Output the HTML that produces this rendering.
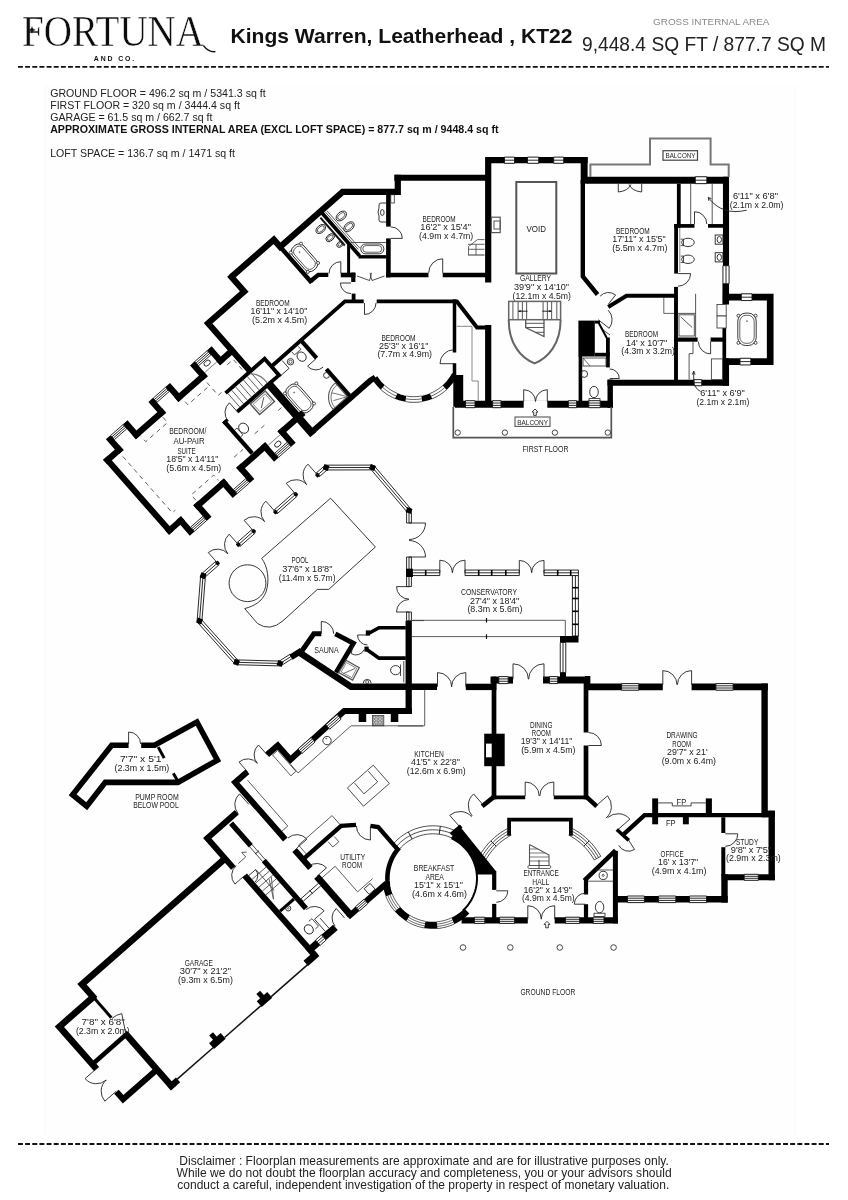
<!DOCTYPE html>
<html lang="en"><head><meta charset="utf-8"><title>Kings Warren, Leatherhead, KT22 - Floorplan</title>
<style>
html,body{margin:0;padding:0;background:#fff}
svg{display:block}
text{font-family:"Liberation Sans",sans-serif;fill:#111}
.c{font-family:"Liberation Sans",sans-serif;fill:#222}
.logo{font-family:"Liberation Serif",serif;fill:#0d0d0d}
.b{font-weight:bold}
.g{fill:#8a8a8a}
</style></head><body>
<svg width="848" height="1200" viewBox="0 0 848 1200" style="filter:grayscale(1)">
<rect x="0" y="0" width="848" height="1200" fill="#fff"/>
<rect x="45.3" y="85.5" width="749.9" height="1049.5" fill="#fefefe"/>
<polyline points="45.3,85.5 45.3,1135" fill="none" stroke="#f6f6f6" stroke-width="0.8"/>
<polyline points="795.2,85.5 795.2,1135" fill="none" stroke="#f6f6f6" stroke-width="0.8"/>
<text x="22" y="46.2" font-size="45" text-anchor="start" class="logo" textLength="182" lengthAdjust="spacingAndGlyphs" stroke="#fff" stroke-width="0.5">FORTUNA</text>
<path d="M203.5 45.6Q208.5 52.4 215.4 51.6" fill="none" stroke="#111" stroke-width="1.5"/>
<path d="M32 26.6Q32.4 29.6 35.4 30Q32.4 30.4 32 33.4Q31.6 30.4 28.6 30Q31.6 29.6 32 26.6Z" fill="#111" stroke="#111" stroke-width="0.3"/>
<text x="93.8" y="60.7" font-size="6.9" class="b" textLength="40.4" lengthAdjust="spacing">AND CO.</text>
<text x="230.5" y="42.6" font-size="20.6" text-anchor="start" class="b" textLength="342" lengthAdjust="spacingAndGlyphs">Kings Warren, Leatherhead , KT22</text>
<text x="653" y="25" font-size="9.8" text-anchor="start" class="g" textLength="116.5" lengthAdjust="spacingAndGlyphs">GROSS INTERNAL AREA</text>
<text x="582" y="50.5" font-size="19.6" text-anchor="start" class="c" textLength="244" lengthAdjust="spacingAndGlyphs">9,448.4 SQ FT / 877.7 SQ M</text>
<line x1="18" y1="66.8" x2="829" y2="66.8" stroke="#111" stroke-width="1.8" stroke-dasharray="4.9 2.25"/>
<line x1="18" y1="1144" x2="829" y2="1144" stroke="#111" stroke-width="1.8" stroke-dasharray="4.9 2.25"/>
<text x="50.2" y="96.8" font-size="10.6" text-anchor="start" class="c" textLength="215.5" lengthAdjust="spacingAndGlyphs">GROUND FLOOR = 496.2 sq m / 5341.3 sq ft</text>
<text x="50.2" y="109.4" font-size="10.6" text-anchor="start" class="c">FIRST FLOOR = 320 sq m / 3444.4 sq ft</text>
<text x="50.2" y="121.4" font-size="10.6" text-anchor="start" class="c">GARAGE = 61.5 sq m / 662.7 sq ft</text>
<text x="50.2" y="133.2" font-size="10.6" text-anchor="start" class="b" textLength="448.3" lengthAdjust="spacingAndGlyphs">APPROXIMATE GROSS INTERNAL AREA (EXCL LOFT SPACE) = 877.7 sq m / 9448.4 sq ft</text>
<text x="50.2" y="156.6" font-size="10.6" text-anchor="start" class="c">LOFT SPACE = 136.7 sq m / 1471 sq ft</text>
<text x="179.3" y="1165" font-size="11.9" text-anchor="start" class="c" textLength="489.5" lengthAdjust="spacingAndGlyphs">Disclaimer : Floorplan measurements are approximate and are for illustrative purposes only.</text>
<text x="176.6" y="1177.2" font-size="11.9" text-anchor="start" class="c" textLength="495" lengthAdjust="spacingAndGlyphs">While we do not doubt the floorplan accuracy and completeness, you or your advisors should</text>
<text x="177.3" y="1189" font-size="11.9" text-anchor="start" class="c" textLength="492" lengthAdjust="spacingAndGlyphs">conduct a careful, independent investigation of the property in respect of monetary valuation.</text>
<polyline points="488.2,282.5 488.2,160.2 587.6,160.2" fill="none" stroke="#000" stroke-width="6.2" stroke-linejoin="miter" stroke-linecap="butt" stroke-miterlimit="10"/>
<rect x="580.7" y="157.1" width="6.9" height="26.6" fill="#000"/>
<polyline points="582.8,180 582.8,276.5 597.5,294.5" fill="none" stroke="#000" stroke-width="4.4" stroke-linejoin="miter" stroke-linecap="butt" stroke-miterlimit="10"/>
<polygon points="504.5,163.3 514.5,163.3 514.5,157.1 504.5,157.1" fill="#fff" stroke="#111" stroke-width="0.9"/>
<polyline points="504.5,160.2 514.5,160.2" fill="none" stroke="#111" stroke-width="0.9"/>
<polygon points="527.5,163.3 538.7,163.3 538.7,157.1 527.5,157.1" fill="#fff" stroke="#111" stroke-width="0.9"/>
<polyline points="527.5,160.2 538.7,160.2" fill="none" stroke="#111" stroke-width="0.9"/>
<polygon points="553.7,163.3 563.7,163.3 563.7,157.1 553.7,157.1" fill="#fff" stroke="#111" stroke-width="0.9"/>
<polyline points="553.7,160.2 563.7,160.2" fill="none" stroke="#111" stroke-width="0.9"/>
<polyline points="488.2,325 488.2,404" fill="none" stroke="#000" stroke-width="6.2" stroke-linejoin="miter" stroke-linecap="butt" stroke-miterlimit="10"/>
<polyline points="455,404.2 612.9,404.2" fill="none" stroke="#000" stroke-width="7" stroke-linejoin="miter" stroke-linecap="butt" stroke-miterlimit="10"/>
<polygon points="516.3,182 556.3,182 556.3,273.5 516.3,273.5" fill="none" stroke="#555" stroke-width="2"/>
<text x="526.5" y="232.3" font-size="8.4" text-anchor="start" class="c" textLength="19.5" lengthAdjust="spacingAndGlyphs">VOID</text>
<text x="520" y="281" font-size="8.4" text-anchor="start" class="c" textLength="31" lengthAdjust="spacingAndGlyphs">GALLERY</text>
<text x="514" y="290" font-size="8.4" text-anchor="start" class="c" textLength="55" lengthAdjust="spacingAndGlyphs">39'9" x 14'10"</text>
<text x="512.5" y="299" font-size="8.4" text-anchor="start" class="c" textLength="58.5" lengthAdjust="spacingAndGlyphs">(12.1m x 4.5m)</text>
<polyline points="587,180.2 729,180.2" fill="none" stroke="#000" stroke-width="6.9" stroke-linejoin="miter" stroke-linecap="butt" stroke-miterlimit="10"/>
<polygon points="695.3,183.65 706.8,183.65 706.8,176.75 695.3,176.75" fill="#fff" stroke="#111" stroke-width="0.9"/>
<polyline points="695.3,180.2 706.8,180.2" fill="none" stroke="#111" stroke-width="0.9"/>
<polyline points="726,176.8 726,304.5" fill="none" stroke="#000" stroke-width="6.1" stroke-linejoin="miter" stroke-linecap="butt" stroke-miterlimit="10"/>
<polygon points="722.95,265.7 722.95,283.8 729.05,283.8 729.05,265.7" fill="#fff" stroke="#111" stroke-width="0.9"/>
<polyline points="726,265.7 726,283.8" fill="none" stroke="#111" stroke-width="0.9"/>
<polyline points="590.4,177 590.4,164.5 650,164.5 650,138.5 710.6,138.5 710.6,164.5 728.7,164.5 728.7,177" fill="none" stroke="#777" stroke-width="2"/>
<rect x="663" y="150.7" width="34.5" height="9.5" fill="none" stroke="#444" stroke-width="1.2"/>
<text x="665.5" y="158.4" font-size="7.6" text-anchor="start" class="c" textLength="30" lengthAdjust="spacingAndGlyphs">BALCONY</text>
<path d="M618.3 183.7V192Q628 191 631 184.5M641.7 183.7V192Q632 191 629 184.5" fill="none" stroke="#222" stroke-width="0.9"/>
<polyline points="678.8,183.7 678.8,227.7" fill="none" stroke="#000" stroke-width="3.8" stroke-linejoin="miter" stroke-linecap="butt" stroke-miterlimit="10"/>
<polyline points="674.2,225.9 694.5,225.9" fill="none" stroke="#000" stroke-width="3.7" stroke-linejoin="miter" stroke-linecap="butt" stroke-miterlimit="10"/>
<polyline points="708,225.9 723,225.9" fill="none" stroke="#000" stroke-width="3.7" stroke-linejoin="miter" stroke-linecap="butt" stroke-miterlimit="10"/>
<polyline points="676.1,224 676.1,273.6" fill="none" stroke="#000" stroke-width="3.8" stroke-linejoin="miter" stroke-linecap="butt" stroke-miterlimit="10"/>
<path d="M694.5 224L694.5 211.7A12.3 12.3 0 0 1 706.8 224" fill="none" stroke="#222" stroke-width="0.9"/>
<polyline points="690.7,183.7 690.7,224" fill="none" stroke="#444" stroke-width="0.9"/>
<polyline points="712.2,183.7 712.2,224" fill="none" stroke="#444" stroke-width="0.9"/>
<path d="M746.7 210.2Q722 216 708.3 197.5M708.3 197.5l3.2 1.2M708.3 197.5l0.6 3.4" fill="none" stroke="#222" stroke-width="0.9"/>
<text x="732.9" y="199.4" font-size="8.4" text-anchor="start" class="c" textLength="45.1" lengthAdjust="spacingAndGlyphs">6'11" x 6'8"</text>
<text x="729.8" y="208.2" font-size="8.4" text-anchor="start" class="c" textLength="53.7" lengthAdjust="spacingAndGlyphs">(2.1m x 2.0m)</text>
<ellipse cx="688" cy="242.4" rx="6.3" ry="4.2" transform="rotate(0 688 242.4)" fill="none" stroke="#222" stroke-width="0.9"/>
<polyline points="680.7,239.2 683.5,239.2 683.5,245.6 680.7,245.6" fill="none" stroke="#222" stroke-width="0.8"/>
<ellipse cx="688" cy="259.3" rx="6.3" ry="4.2" transform="rotate(0 688 259.3)" fill="none" stroke="#222" stroke-width="0.9"/>
<polyline points="680.7,256.1 683.5,256.1 683.5,262.5 680.7,262.5" fill="none" stroke="#222" stroke-width="0.8"/>
<polyline points="679.8,228 679.8,272" fill="none" stroke="#555" stroke-width="0.7"/>
<rect x="715.2" y="235" width="7.7" height="9.2" fill="none" stroke="#222" stroke-width="0.9"/>
<ellipse cx="719.3" cy="239.6" rx="2.2" ry="3.1" transform="rotate(0 719.3 239.6)" fill="none" stroke="#222" stroke-width="0.9"/>
<rect x="715.2" y="252.7" width="7.7" height="9.2" fill="none" stroke="#222" stroke-width="0.9"/>
<ellipse cx="719.3" cy="257.3" rx="2.2" ry="3.1" transform="rotate(0 719.3 257.3)" fill="none" stroke="#222" stroke-width="0.9"/>
<path d="M678 273.6L690.6 273.6A12.6 12.6 0 0 1 678 286.2" fill="none" stroke="#222" stroke-width="0.9"/>
<text x="616" y="233.6" font-size="8.4" text-anchor="start" class="c" textLength="33.7" lengthAdjust="spacingAndGlyphs">BEDROOM</text>
<text x="612.2" y="242.3" font-size="8.4" text-anchor="start" class="c" textLength="53.6" lengthAdjust="spacingAndGlyphs">17'11" x 15'5"</text>
<text x="612.2" y="251" font-size="8.4" text-anchor="start" class="c" textLength="55.2" lengthAdjust="spacingAndGlyphs">(5.5m x 4.7m)</text>
<polyline points="676,286.9 676,380" fill="none" stroke="#000" stroke-width="3.9" stroke-linejoin="miter" stroke-linecap="butt" stroke-miterlimit="10"/>
<polyline points="607.5,382.7 729,382.7" fill="none" stroke="#000" stroke-width="6.1" stroke-linejoin="miter" stroke-linecap="butt" stroke-miterlimit="10"/>
<polygon points="694,385.75 701.7,385.75 701.7,379.65 694,379.65" fill="#fff" stroke="#111" stroke-width="0.9"/>
<polyline points="694,382.7 701.7,382.7" fill="none" stroke="#111" stroke-width="0.9"/>
<polyline points="725.8,358.2 725.8,385.7" fill="none" stroke="#000" stroke-width="6.5" stroke-linejoin="miter" stroke-linecap="butt" stroke-miterlimit="10"/>
<polyline points="724.3,283.8 724.3,304.5" fill="none" stroke="#000" stroke-width="3.7" stroke-linejoin="miter" stroke-linecap="butt" stroke-miterlimit="10"/>
<polyline points="724.3,328 724.3,360" fill="none" stroke="#000" stroke-width="3.7" stroke-linejoin="miter" stroke-linecap="butt" stroke-miterlimit="10"/>
<rect x="717" y="304.5" width="9.2" height="11.5" fill="#fff" stroke="#444" stroke-width="0.9"/>
<rect x="717" y="316" width="9.2" height="12" fill="#fff" stroke="#444" stroke-width="0.9"/>
<polyline points="722.9,297.2 770.2,297.2 770.2,361.6 724,361.6" fill="none" stroke="#000" stroke-width="6.7" stroke-linejoin="miter" stroke-linecap="butt" stroke-miterlimit="10"/>
<polygon points="741.3,300.55 752,300.55 752,293.85 741.3,293.85" fill="#fff" stroke="#111" stroke-width="0.9"/>
<polyline points="741.3,297.2 752,297.2" fill="none" stroke="#111" stroke-width="0.9"/>
<polygon points="740,364.95 750.8,364.95 750.8,358.25 740,358.25" fill="#fff" stroke="#111" stroke-width="0.9"/>
<polyline points="740,361.6 750.8,361.6" fill="none" stroke="#111" stroke-width="0.9"/>
<rect x="730.8" y="320.1" width="32.4" height="18.4" rx="7.91" fill="none" stroke="#222" stroke-width="0.9" transform="rotate(90 747 329.3)"/>
<rect x="733" y="322.1" width="28" height="14.4" rx="6.19" fill="none" stroke="#222" stroke-width="0.7" transform="rotate(90 747 329.3)"/>
<circle cx="755.6" cy="315.7" r="1.5" fill="#fff" stroke="#222" stroke-width="0.8"/>
<circle cx="755.6" cy="342.9" r="1.5" fill="#fff" stroke="#222" stroke-width="0.8"/>
<circle cx="738.4" cy="315.7" r="1.5" fill="#fff" stroke="#222" stroke-width="0.8"/>
<circle cx="738.4" cy="342.9" r="1.5" fill="#fff" stroke="#222" stroke-width="0.8"/>
<circle cx="747" cy="321.1" r="0.5" fill="none" stroke="#222" stroke-width="0.6"/>
<polyline points="674.1,339.6 697.6,339.6" fill="none" stroke="#000" stroke-width="4.2" stroke-linejoin="miter" stroke-linecap="butt" stroke-miterlimit="10"/>
<polyline points="710.6,339.6 723,339.6" fill="none" stroke="#000" stroke-width="4.2" stroke-linejoin="miter" stroke-linecap="butt" stroke-miterlimit="10"/>
<path d="M710.6 341.7L710.6 353.9A12.2 12.2 0 0 1 698.4 341.7" fill="none" stroke="#222" stroke-width="0.9"/>
<polyline points="695.6,293.8 695.6,337.5" fill="none" stroke="#444" stroke-width="0.9"/>
<polyline points="678,313.4 695.6,313.4" fill="none" stroke="#444" stroke-width="0.9"/>
<rect x="679" y="314.8" width="15.3" height="21.2" fill="none" stroke="#444" stroke-width="0.9"/>
<polyline points="680.7,316.8 692.2,327.5" fill="none" stroke="#444" stroke-width="0.9"/>
<polyline points="663.8,297.6 663.8,313.4 674,313.4" fill="none" stroke="#555" stroke-width="0.9"/>
<polyline points="693,341.7 693,353.6 689.1,353.6 689.1,379.6" fill="none" stroke="#444" stroke-width="0.9"/>
<rect x="711.4" y="358.9" width="11.1" height="20.7" fill="none" stroke="#444" stroke-width="0.9"/>
<path d="M693.7 371.2V380Q694 388 700.6 391.5M693.7 371.2l-1.4 3.4M693.7 371.2l1.4 3.4" fill="none" stroke="#222" stroke-width="0.9"/>
<text x="700.2" y="395.6" font-size="8.4" text-anchor="start" class="c" textLength="44.6" lengthAdjust="spacingAndGlyphs">6'11" x 6'9"</text>
<text x="696.5" y="404.5" font-size="8.4" text-anchor="start" class="c" textLength="52.9" lengthAdjust="spacingAndGlyphs">(2.1m x 2.1m)</text>
<polyline points="608.2,307 626.5,295.7 676,295.7" fill="none" stroke="#000" stroke-width="4" stroke-linejoin="miter" stroke-linecap="butt" stroke-miterlimit="10"/>
<text x="625" y="337" font-size="8.4" text-anchor="start" class="c" textLength="33" lengthAdjust="spacingAndGlyphs">BEDROOM</text>
<text x="626" y="345.5" font-size="8.4" text-anchor="start" class="c" textLength="41.3" lengthAdjust="spacingAndGlyphs">14' x 10'7"</text>
<text x="621.3" y="354.2" font-size="8.4" text-anchor="start" class="c" textLength="53.7" lengthAdjust="spacingAndGlyphs">(4.3m x 3.2m)</text>
<path d="M608.5 304L615.58 294.94A11.5 11.5 0 0 0 600.09 296.16" fill="none" stroke="#222" stroke-width="0.9"/>
<path d="M598.3 319.8L609.17 328.3A13.8 13.8 0 0 0 608.23 310.21" fill="none" stroke="#222" stroke-width="0.9"/>
<polyline points="600.6,328 610,335" fill="none" stroke="#222" stroke-width="0.8"/>
<rect x="578.4" y="320.6" width="16.4" height="35.9" fill="#000"/>
<rect x="594.8" y="352.8" width="15" height="3.7" fill="#000"/>
<rect x="606" y="337.5" width="3.8" height="29.9" fill="#000"/>
<rect x="594.8" y="320.6" width="5.2" height="3" fill="#000"/>
<polyline points="598.8,323 606.8,338" fill="none" stroke="#000" stroke-width="2"/>
<polyline points="580.4,356 580.4,405" fill="none" stroke="#000" stroke-width="3.6" stroke-linejoin="miter" stroke-linecap="butt" stroke-miterlimit="10"/>
<rect x="583" y="358" width="23" height="8" fill="none" stroke="#444" stroke-width="0.9"/>
<polyline points="583,358 590,366" fill="none" stroke="#444" stroke-width="0.8"/>
<circle cx="584.2" cy="374" r="3.4" fill="none" stroke="#222" stroke-width="0.9"/>
<path d="M609.8 378.5L619.3 378.5A9.5 9.5 0 0 0 609.8 369" fill="none" stroke="#222" stroke-width="0.9"/>
<polyline points="610.2,379.6 610.2,408" fill="none" stroke="#000" stroke-width="5.4" stroke-linejoin="miter" stroke-linecap="butt" stroke-miterlimit="10"/>
<ellipse cx="594" cy="392" rx="4.3" ry="5.7" transform="rotate(0 594 392)" fill="none" stroke="#222" stroke-width="0.9"/>
<rect x="589" y="398.6" width="11" height="3.2" fill="none" stroke="#222" stroke-width="0.8"/>
<polygon points="465.5,407.7 475,407.7 475,400.7 465.5,400.7" fill="#fff" stroke="#111" stroke-width="0.9"/>
<polyline points="465.5,403.03 475,403.03" fill="none" stroke="#111" stroke-width="0.9"/>
<polyline points="465.5,405.37 475,405.37" fill="none" stroke="#111" stroke-width="0.9"/>
<polygon points="492.6,407.7 501,407.7 501,400.7 492.6,400.7" fill="#fff" stroke="#111" stroke-width="0.9"/>
<polyline points="492.6,403.03 501,403.03" fill="none" stroke="#111" stroke-width="0.9"/>
<polyline points="492.6,405.37 501,405.37" fill="none" stroke="#111" stroke-width="0.9"/>
<polygon points="568.4,407.7 576.6,407.7 576.6,400.7 568.4,400.7" fill="#fff" stroke="#111" stroke-width="0.9"/>
<polyline points="568.4,403.03 576.6,403.03" fill="none" stroke="#111" stroke-width="0.9"/>
<polyline points="568.4,405.37 576.6,405.37" fill="none" stroke="#111" stroke-width="0.9"/>
<polygon points="588.8,407.7 600.2,407.7 600.2,400.7 588.8,400.7" fill="#fff" stroke="#111" stroke-width="0.9"/>
<polyline points="588.8,403.03 600.2,403.03" fill="none" stroke="#111" stroke-width="0.9"/>
<polyline points="588.8,405.37 600.2,405.37" fill="none" stroke="#111" stroke-width="0.9"/>
<polyline points="394.3,177.7 488,177.7" fill="none" stroke="#000" stroke-width="5.9" stroke-linejoin="miter" stroke-linecap="butt" stroke-miterlimit="10"/>
<polyline points="388.4,194.8 388.4,226.6" fill="none" stroke="#000" stroke-width="4.6" stroke-linejoin="miter" stroke-linecap="butt" stroke-miterlimit="10"/>
<polyline points="388.4,238.4 388.4,277.4" fill="none" stroke="#000" stroke-width="4.6" stroke-linejoin="miter" stroke-linecap="butt" stroke-miterlimit="10"/>
<polyline points="386,275 428.5,275" fill="none" stroke="#000" stroke-width="4.6" stroke-linejoin="miter" stroke-linecap="butt" stroke-miterlimit="10"/>
<polyline points="442.7,275 488,275" fill="none" stroke="#000" stroke-width="4.6" stroke-linejoin="miter" stroke-linecap="butt" stroke-miterlimit="10"/>
<path d="M390.8 238.4L402.3 238.4A11.5 11.5 0 0 0 390.8 226.9" fill="none" stroke="#222" stroke-width="0.9"/>
<path d="M442.7 272.8L442.7 258.8A14 14 0 0 0 428.7 272.8" fill="none" stroke="#222" stroke-width="0.9"/>
<text x="422.6" y="221.8" font-size="8.4" text-anchor="start" class="c" textLength="33.1" lengthAdjust="spacingAndGlyphs">BEDROOM</text>
<text x="420.3" y="230.4" font-size="8.4" text-anchor="start" class="c" textLength="50.7" lengthAdjust="spacingAndGlyphs">16'2" x 15'4"</text>
<text x="419.1" y="239.1" font-size="8.4" text-anchor="start" class="c" textLength="54.2" lengthAdjust="spacingAndGlyphs">(4.9m x 4.7m)</text>
<polyline points="468,244.3 484.5,244.3" fill="none" stroke="#555" stroke-width="0.9"/>
<polyline points="468,249.3 484.5,249.3" fill="none" stroke="#555" stroke-width="0.9"/>
<polyline points="468,255 484.5,255" fill="none" stroke="#555" stroke-width="1.2"/>
<polyline points="477.5,239.6 468.5,246.5 468.5,255" fill="none" stroke="#555" stroke-width="0.9"/>
<polyline points="477.5,239.6 484.5,239.6" fill="none" stroke="#555" stroke-width="0.9"/>
<polyline points="476,244.3 476,255" fill="none" stroke="#555" stroke-width="0.9"/>
<rect x="491.3" y="217.2" width="8.9" height="15.4" fill="none" stroke="#555" stroke-width="1.2"/>
<rect x="494" y="221" width="6.2" height="8" fill="none" stroke="#555" stroke-width="1"/>
<polyline points="231.44,276.93 273.89,239.64 280.16,246.78 342.62,191.9 397.8,191.9 397.8,174.8" fill="none" stroke="#000" stroke-width="6.2" stroke-linejoin="miter" stroke-linecap="butt" stroke-miterlimit="10"/>
<polyline points="229.46,274.68 244.25,291.5 208.11,323.25 250.22,371.18" fill="none" stroke="#000" stroke-width="6.2" stroke-linejoin="miter" stroke-linecap="butt" stroke-miterlimit="10"/>
<polyline points="278.64,245.05 311.77,282.76" fill="none" stroke="#000" stroke-width="4.4" stroke-linejoin="miter" stroke-linecap="butt" stroke-miterlimit="10"/>
<polyline points="310.45,281.26 318.3,274.9 328.3,274.9" fill="none" stroke="#000" stroke-width="4.4" stroke-linejoin="miter" stroke-linecap="butt" stroke-miterlimit="10"/>
<polyline points="340.8,275 355.4,275" fill="none" stroke="#000" stroke-width="4.6" stroke-linejoin="miter" stroke-linecap="butt" stroke-miterlimit="10"/>
<polyline points="353.3,272.6 353.3,282" fill="none" stroke="#000" stroke-width="4.2" stroke-linejoin="miter" stroke-linecap="butt" stroke-miterlimit="10"/>
<polyline points="353.6,293.6 353.6,303" fill="none" stroke="#000" stroke-width="3.8" stroke-linejoin="miter" stroke-linecap="butt" stroke-miterlimit="10"/>
<path d="M340.8 273.5L340.8 261.7A11.8 11.8 0 0 0 329 273.5" fill="none" stroke="#222" stroke-width="0.9"/>
<path d="M351 283L340.4 283A10.6 10.6 0 0 0 351 293.6" fill="none" stroke="#222" stroke-width="0.9"/>
<path d="M357 276L369.5 280.5M384.5 276L372 280.5M369.5 280.5Q372 276 370 272.8M372 280.5Q369.5 276 371.5 272.8" fill="none" stroke="#222" stroke-width="0.8"/>
<polyline points="320.96,211.86 359.51,255.73" fill="none" stroke="#000" stroke-width="3.8" stroke-linejoin="miter" stroke-linecap="butt" stroke-miterlimit="10"/>
<polyline points="358.51,256.8 386.5,256.8" fill="none" stroke="#000" stroke-width="3.4" stroke-linejoin="miter" stroke-linecap="butt" stroke-miterlimit="10"/>
<polyline points="348.6,244 348.6,275" fill="none" stroke="#000" stroke-width="3" stroke-linejoin="miter" stroke-linecap="butt" stroke-miterlimit="10"/>
<polyline points="325.35,212 358.35,249.57" fill="none" stroke="#333" stroke-width="0.8"/>
<polyline points="326.85,210.68 359.85,248.25" fill="none" stroke="#333" stroke-width="0.8"/>
<polyline points="320.37,217.7 344.79,245.5" fill="none" stroke="#111" stroke-width="2"/>
<ellipse cx="341.3" cy="216" rx="6" ry="3.9" transform="rotate(-41 341.3 216)" fill="none" stroke="#222" stroke-width="0.9"/>
<ellipse cx="341.3" cy="216" rx="4.4" ry="2.4" transform="rotate(-41 341.3 216)" fill="none" stroke="#222" stroke-width="0.7"/>
<ellipse cx="349" cy="226.7" rx="6" ry="3.9" transform="rotate(-41 349 226.7)" fill="none" stroke="#222" stroke-width="0.9"/>
<ellipse cx="349" cy="226.7" rx="4.4" ry="2.4" transform="rotate(-41 349 226.7)" fill="none" stroke="#222" stroke-width="0.7"/>
<ellipse cx="320.8" cy="229" rx="5.6" ry="3.6" transform="rotate(-41 320.8 229)" fill="none" stroke="#222" stroke-width="0.9"/>
<ellipse cx="320.8" cy="229" rx="4.1" ry="2.3" transform="rotate(-41 320.8 229)" fill="none" stroke="#222" stroke-width="0.7"/>
<ellipse cx="330.2" cy="237.7" rx="4.8" ry="3.2" transform="rotate(-41 330.2 237.7)" fill="none" stroke="#222" stroke-width="0.9"/>
<ellipse cx="330.2" cy="237.7" rx="3.3" ry="1.9" transform="rotate(-41 330.2 237.7)" fill="none" stroke="#222" stroke-width="0.7"/>
<ellipse cx="340" cy="244.3" rx="3.6" ry="2.6" transform="rotate(-41 340 244.3)" fill="none" stroke="#222" stroke-width="0.9"/>
<ellipse cx="340" cy="244.3" rx="2.1" ry="1.3" transform="rotate(-41 340 244.3)" fill="none" stroke="#222" stroke-width="0.7"/>
<path d="M386 203h-5q-2 0-2 2v3q-2 4 0 8v4q0 2 2 2h5" fill="none" stroke="#222" stroke-width="0.9"/>
<ellipse cx="382.3" cy="212.5" rx="1.8" ry="3" transform="rotate(0 382.3 212.5)" fill="none" stroke="#222" stroke-width="0.9"/>
<rect x="390.8" y="194.8" width="3.5" height="8.2" fill="none" stroke="#333" stroke-width="0.8"/>
<polyline points="350.7,242.5 386,242.5" fill="none" stroke="#333" stroke-width="0.8"/>
<rect x="360.8" y="244" width="23" height="9.8" rx="4.5" fill="none" stroke="#222" stroke-width="0.9"/>
<rect x="362.8" y="245.6" width="19" height="6.6" rx="3.2" fill="none" stroke="#222" stroke-width="0.7"/>
<rect x="288.96" y="250.37" width="31" height="14.8" rx="6.36" fill="none" stroke="#222" stroke-width="0.9" transform="rotate(48.7 304.46 257.77)"/>
<rect x="291.16" y="252.37" width="26.6" height="10.8" rx="4.64" fill="none" stroke="#222" stroke-width="0.7" transform="rotate(48.7 304.46 257.77)"/>
<circle cx="301.06" cy="243.59" r="1.5" fill="#fff" stroke="#222" stroke-width="0.8"/>
<circle cx="318.08" cy="262.98" r="1.5" fill="#fff" stroke="#222" stroke-width="0.8"/>
<circle cx="290.84" cy="252.57" r="1.5" fill="#fff" stroke="#222" stroke-width="0.8"/>
<circle cx="307.87" cy="271.95" r="1.5" fill="#fff" stroke="#222" stroke-width="0.8"/>
<circle cx="299.51" cy="252.14" r="0.5" fill="none" stroke="#222" stroke-width="0.6"/>
<text x="255.9" y="305.6" font-size="8.4" text-anchor="start" class="c" textLength="33.7" lengthAdjust="spacingAndGlyphs">BEDROOM</text>
<text x="250.6" y="314.2" font-size="8.4" text-anchor="start" class="c" textLength="56.7" lengthAdjust="spacingAndGlyphs">16'11" x 14'10"</text>
<text x="252.1" y="323.2" font-size="8.4" text-anchor="start" class="c" textLength="55.2" lengthAdjust="spacingAndGlyphs">(5.2m x 4.5m)</text>
<polyline points="271.42,366.53 344.9,301.3 363.7,301.3" fill="none" stroke="#000" stroke-width="3.8" stroke-linejoin="miter" stroke-linecap="butt" stroke-miterlimit="10"/>
<polyline points="376.7,301.3 457.5,301.3" fill="none" stroke="#000" stroke-width="3.8" stroke-linejoin="miter" stroke-linecap="butt" stroke-miterlimit="10"/>
<path d="M364.5 303L364.5 314.5A11.5 11.5 0 0 0 376 303" fill="none" stroke="#222" stroke-width="0.9"/>
<polyline points="454.5,299.4 454.5,352.5" fill="none" stroke="#000" stroke-width="3.5" stroke-linejoin="miter" stroke-linecap="butt" stroke-miterlimit="10"/>
<polyline points="454.5,363.2 454.5,381" fill="none" stroke="#000" stroke-width="3.5" stroke-linejoin="miter" stroke-linecap="butt" stroke-miterlimit="10"/>
<rect x="453.3" y="375" width="9.9" height="31.8" fill="#000"/>
<path d="M454 363.7L440 363.7A14 14 0 0 1 454 349.7" fill="none" stroke="#222" stroke-width="0.9"/>
<polyline points="456.3,300.8 477,327.4 486,327.4" fill="none" stroke="#000" stroke-width="4" stroke-linejoin="miter" stroke-linecap="butt" stroke-miterlimit="10"/>
<polyline points="456.8,326.3 472,326.3 472,381 478.2,381 478.2,401" fill="none" stroke="#888" stroke-width="1"/>
<text x="381.4" y="340.6" font-size="8.4" text-anchor="start" class="c" textLength="34.2" lengthAdjust="spacingAndGlyphs">BEDROOM</text>
<text x="379" y="349" font-size="8.4" text-anchor="start" class="c" textLength="49.5" lengthAdjust="spacingAndGlyphs">25'3" x 16'1"</text>
<text x="377.4" y="357.2" font-size="8.4" text-anchor="start" class="c" textLength="54.6" lengthAdjust="spacingAndGlyphs">(7.7m x 4.9m)</text>
<polyline points="454.79,374.38 452.79,377.9 450.5,381.24 447.92,384.35 445.07,387.23 441.99,389.85 438.68,392.19 435.19,394.22 431.53,395.95 427.73,397.34 423.82,398.4 419.84,399.1 415.81,399.46 411.76,399.45 407.73,399.1 403.75,398.39 399.84,397.33 396.04,395.93 392.38,394.21 388.89,392.17 385.59,389.83 382.5,387.21 379.66,384.33 377.08,381.21 374.79,377.88" fill="none" stroke="#000" stroke-width="6" stroke-linejoin="miter" stroke-linecap="butt" stroke-miterlimit="10"/>
<polyline points="396.2,396 393.76,394.9 391.38,393.67 389.08,392.3 386.87,390.79 384.75,389.16 382.72,387.41" fill="none" stroke="#fff" stroke-width="6.4"/>
<polyline points="397.27,393.41 394.98,392.38 392.75,391.22 390.59,389.93 388.51,388.52 386.52,386.99 384.61,385.35" fill="none" stroke="#222" stroke-width="0.7"/>
<polyline points="396.2,396 393.76,394.9 391.38,393.67 389.08,392.3 386.87,390.79 384.75,389.16 382.72,387.41" fill="none" stroke="#222" stroke-width="0.7"/>
<polyline points="395.13,398.59 392.54,397.42 390.02,396.11 387.58,394.66 385.23,393.06 382.98,391.34 380.83,389.48" fill="none" stroke="#222" stroke-width="0.7"/>
<polyline points="421.79,398.8 419.14,399.19 416.47,399.42 413.8,399.5 411.13,399.42 408.46,399.19 405.81,398.8" fill="none" stroke="#fff" stroke-width="6.4"/>
<polyline points="421.3,396.04 418.82,396.41 416.31,396.63 413.8,396.7 411.29,396.63 408.78,396.41 406.3,396.04" fill="none" stroke="#222" stroke-width="0.7"/>
<polyline points="421.79,398.8 419.14,399.19 416.47,399.42 413.8,399.5 411.13,399.42 408.46,399.19 405.81,398.8" fill="none" stroke="#222" stroke-width="0.7"/>
<polyline points="422.27,401.56 419.47,401.97 416.64,402.22 413.8,402.3 410.96,402.22 408.13,401.97 405.33,401.56" fill="none" stroke="#222" stroke-width="0.7"/>
<polyline points="444.58,387.68 442.54,389.42 440.4,391.03 438.18,392.51 435.87,393.86 433.48,395.08 431.03,396.15" fill="none" stroke="#fff" stroke-width="6.4"/>
<polyline points="442.71,385.6 440.79,387.23 438.78,388.74 436.69,390.14 434.52,391.4 432.28,392.55 429.98,393.55" fill="none" stroke="#222" stroke-width="0.7"/>
<polyline points="444.58,387.68 442.54,389.42 440.4,391.03 438.18,392.51 435.87,393.86 433.48,395.08 431.03,396.15" fill="none" stroke="#222" stroke-width="0.7"/>
<polyline points="446.45,389.77 444.29,391.6 442.02,393.31 439.66,394.88 437.21,396.32 434.68,397.61 432.08,398.75" fill="none" stroke="#222" stroke-width="0.7"/>
<polyline points="299.91,339.11 316.61,358.11" fill="none" stroke="#000" stroke-width="4.2" stroke-linejoin="miter" stroke-linecap="butt" stroke-miterlimit="10"/>
<polyline points="326.38,369.23 352.91,399.43" fill="none" stroke="#000" stroke-width="4.2" stroke-linejoin="miter" stroke-linecap="butt" stroke-miterlimit="10"/>
<polyline points="311.31,432.39 370.28,380.58 375.29,377.38" fill="none" stroke="#000" stroke-width="5.8" stroke-linejoin="miter" stroke-linecap="butt" stroke-miterlimit="10"/>
<polyline points="267.68,382.73 313.22,434.56" fill="none" stroke="#000" stroke-width="8" stroke-linejoin="miter" stroke-linecap="butt" stroke-miterlimit="10"/>
<path d="M315.85 358.92L307.58 366.18A11 11 0 0 0 323.11 367.18" fill="none" stroke="#222" stroke-width="0.9"/>
<rect x="283.47" y="390.26" width="32" height="16.4" rx="7.05" fill="none" stroke="#222" stroke-width="0.9" transform="rotate(48.7 299.47 398.46)"/>
<rect x="285.67" y="392.26" width="27.6" height="12.4" rx="5.33" fill="none" stroke="#222" stroke-width="0.7" transform="rotate(48.7 299.47 398.46)"/>
<circle cx="296.34" cy="383.38" r="1.5" fill="#fff" stroke="#222" stroke-width="0.8"/>
<circle cx="314.03" cy="403.51" r="1.5" fill="#fff" stroke="#222" stroke-width="0.8"/>
<circle cx="284.92" cy="393.41" r="1.5" fill="#fff" stroke="#222" stroke-width="0.8"/>
<circle cx="302.61" cy="413.54" r="1.5" fill="#fff" stroke="#222" stroke-width="0.8"/>
<circle cx="294.19" cy="392.45" r="0.5" fill="none" stroke="#222" stroke-width="0.6"/>
<circle cx="326.47" cy="375.4" r="2.9" fill="none" stroke="#222" stroke-width="0.9"/>
<path d="M335.34 382.92A18.5 18.5 0 0 0 332.99 409.34L347.42 396.67Z" fill="none" stroke="#555" stroke-width="1.1"/>
<path d="M336.99 384.8A16 16 0 0 0 334.87 407.69" fill="none" stroke="#555" stroke-width="0.8"/>
<polyline points="347.42,396.67 331.73,392.75" fill="none" stroke="#555" stroke-width="0.8"/>
<polyline points="347.42,396.67 333.34,400.65" fill="none" stroke="#555" stroke-width="0.8"/>
<ellipse cx="301.61" cy="356.65" rx="5" ry="4.2" transform="rotate(48.7 301.61 356.65)" fill="none" stroke="#222" stroke-width="0.9"/>
<polyline points="291.85,351.91 294.49,354.91 300.88,349.3 298.24,346.3" fill="none" stroke="#222" stroke-width="0.8"/>
<circle cx="290.51" cy="361.74" r="3.2" fill="none" stroke="#222" stroke-width="0.9"/>
<circle cx="290.51" cy="361.74" r="1.6" fill="none" stroke="#222" stroke-width="0.7"/>
<polyline points="282.09,360.49 289.02,368.38 280,376.3 273.07,368.41" fill="none" stroke="#222" stroke-width="0.9"/>
<polyline points="225.56,393.11 264.62,358.79 279.01,375.17 237.32,411.8" fill="none" stroke="#000" stroke-width="3.8" stroke-linejoin="miter" stroke-linecap="butt" stroke-miterlimit="10"/>
<polyline points="231.63,390.17 243.51,403.7" fill="none" stroke="#333" stroke-width="0.8"/>
<polyline points="235.54,386.74 247.42,400.26" fill="none" stroke="#333" stroke-width="0.8"/>
<polyline points="239.44,383.31 251.32,396.83" fill="none" stroke="#333" stroke-width="0.8"/>
<polyline points="243.35,379.88 255.23,393.4" fill="none" stroke="#333" stroke-width="0.8"/>
<polyline points="247.26,376.45 259.14,389.97" fill="none" stroke="#333" stroke-width="0.8"/>
<polyline points="251.16,373.01 263.04,386.54" fill="none" stroke="#333" stroke-width="0.8"/>
<polyline points="227.87,393.47 239.75,407" fill="none" stroke="#333" stroke-width="0.8"/>
<path d="M250.04 374Q260.01 373.23 267.18 382.91" fill="none" stroke="#777" stroke-width="1.2"/>
<polygon points="250.43,404 265.23,391 274.47,401.52 259.67,414.52" fill="none" stroke="#555" stroke-width="1.4"/>
<polygon points="253.26,404.19 265.05,393.82 271.65,401.34 259.86,411.7" fill="none" stroke="#555" stroke-width="0.7"/>
<polyline points="261.3,408.04 263.77,397.21" fill="none" stroke="#444" stroke-width="0.9"/>
<polyline points="223.83,420.99 252.21,453.29" fill="none" stroke="#000" stroke-width="4.2" stroke-linejoin="miter" stroke-linecap="butt" stroke-miterlimit="10"/>
<polyline points="223.24,423.5 227.6,419.67" fill="none" stroke="#000" stroke-width="3" stroke-linejoin="miter" stroke-linecap="butt" stroke-miterlimit="10"/>
<path d="M237.98 412.55L229.4 402.78A13 13 0 0 0 228.21 421.13" fill="none" stroke="#222" stroke-width="0.9"/>
<ellipse cx="243.62" cy="428.22" rx="4.6" ry="5.4" transform="rotate(-41.3 243.62 428.22)" fill="none" stroke="#222" stroke-width="0.9"/>
<polyline points="234.72,430.05 236.97,428.07 242.91,434.84 240.66,436.82" fill="none" stroke="#222" stroke-width="0.8"/>
<polyline points="234.46,348.55 218.01,363" fill="none" stroke="#000" stroke-width="6.2" stroke-linejoin="miter" stroke-linecap="butt" stroke-miterlimit="10"/>
<polyline points="205.69,373.83 176.39,399.57" fill="none" stroke="#000" stroke-width="6.2" stroke-linejoin="miter" stroke-linecap="butt" stroke-miterlimit="10"/>
<polyline points="164.07,410.39 133.87,436.92" fill="none" stroke="#000" stroke-width="6.2" stroke-linejoin="miter" stroke-linecap="butt" stroke-miterlimit="10"/>
<polyline points="121.55,447.75 105.17,462.14" fill="none" stroke="#000" stroke-width="6.2" stroke-linejoin="miter" stroke-linecap="butt" stroke-miterlimit="10"/>
<polyline points="222.39,363.29 211.36,350.74 209.03,352.79" fill="none" stroke="#000" stroke-width="6.2" stroke-linejoin="miter" stroke-linecap="butt" stroke-miterlimit="10"/>
<polyline points="205.41,378.2 194.39,365.66 196.71,363.61" fill="none" stroke="#000" stroke-width="6.2" stroke-linejoin="miter" stroke-linecap="butt" stroke-miterlimit="10"/>
<polygon points="198.56,365.72 210.88,354.89 207.19,350.68 194.87,361.51" fill="#fff" stroke="#111" stroke-width="0.9"/>
<polyline points="196.1,362.91 208.42,352.09" fill="none" stroke="#111" stroke-width="0.9"/>
<polyline points="197.33,364.31 209.65,353.49" fill="none" stroke="#111" stroke-width="0.9"/>
<polyline points="180.77,399.85 169.74,387.31 167.41,389.35" fill="none" stroke="#000" stroke-width="6.2" stroke-linejoin="miter" stroke-linecap="butt" stroke-miterlimit="10"/>
<polyline points="163.79,414.77 152.77,402.22 155.09,400.18" fill="none" stroke="#000" stroke-width="6.2" stroke-linejoin="miter" stroke-linecap="butt" stroke-miterlimit="10"/>
<polygon points="156.94,402.28 169.26,391.46 165.57,387.25 153.25,398.07" fill="#fff" stroke="#111" stroke-width="0.9"/>
<polyline points="154.48,399.47 166.8,388.65" fill="none" stroke="#111" stroke-width="0.9"/>
<polyline points="155.71,400.88 168.03,390.05" fill="none" stroke="#111" stroke-width="0.9"/>
<polyline points="138.24,437.21 127.22,424.66 124.89,426.71" fill="none" stroke="#000" stroke-width="6.2" stroke-linejoin="miter" stroke-linecap="butt" stroke-miterlimit="10"/>
<polyline points="121.27,452.12 110.24,439.58 112.57,437.53" fill="none" stroke="#000" stroke-width="6.2" stroke-linejoin="miter" stroke-linecap="butt" stroke-miterlimit="10"/>
<polygon points="114.42,439.64 126.74,428.81 123.05,424.6 110.72,435.43" fill="#fff" stroke="#111" stroke-width="0.9"/>
<polyline points="111.96,436.83 124.28,426.01" fill="none" stroke="#111" stroke-width="0.9"/>
<polyline points="113.19,438.23 125.51,427.41" fill="none" stroke="#111" stroke-width="0.9"/>
<polyline points="105.45,457.76 171.39,532.81" fill="none" stroke="#000" stroke-width="6.2" stroke-linejoin="miter" stroke-linecap="butt" stroke-miterlimit="10"/>
<polyline points="303.44,412.67 279.55,433.66" fill="none" stroke="#000" stroke-width="6.2" stroke-linejoin="miter" stroke-linecap="butt" stroke-miterlimit="10"/>
<polyline points="267.23,444.49 238.23,469.96" fill="none" stroke="#000" stroke-width="6.2" stroke-linejoin="miter" stroke-linecap="butt" stroke-miterlimit="10"/>
<polyline points="225.91,480.79 195.34,507.65" fill="none" stroke="#000" stroke-width="6.2" stroke-linejoin="miter" stroke-linecap="butt" stroke-miterlimit="10"/>
<polyline points="183.02,518.47 167.01,532.53" fill="none" stroke="#000" stroke-width="6.2" stroke-linejoin="miter" stroke-linecap="butt" stroke-miterlimit="10"/>
<polyline points="279.84,429.29 291.32,442.36 288.99,444.41" fill="none" stroke="#000" stroke-width="6.2" stroke-linejoin="miter" stroke-linecap="butt" stroke-miterlimit="10"/>
<polyline points="262.86,444.2 274.34,457.28 276.67,455.23" fill="none" stroke="#000" stroke-width="6.2" stroke-linejoin="miter" stroke-linecap="butt" stroke-miterlimit="10"/>
<polygon points="278.52,457.33 290.84,446.51 287.14,442.3 274.82,453.13" fill="#fff" stroke="#111" stroke-width="0.9"/>
<polyline points="276.05,454.53 288.37,443.7" fill="none" stroke="#111" stroke-width="0.9"/>
<polyline points="277.29,455.93 289.61,445.11" fill="none" stroke="#111" stroke-width="0.9"/>
<polyline points="238.52,465.59 250,478.66 247.67,480.71" fill="none" stroke="#000" stroke-width="6.2" stroke-linejoin="miter" stroke-linecap="butt" stroke-miterlimit="10"/>
<polyline points="221.54,480.5 233.02,493.58 235.35,491.53" fill="none" stroke="#000" stroke-width="6.2" stroke-linejoin="miter" stroke-linecap="butt" stroke-miterlimit="10"/>
<polygon points="237.2,493.63 249.52,482.81 245.82,478.6 233.5,489.43" fill="#fff" stroke="#111" stroke-width="0.9"/>
<polyline points="234.73,490.83 247.06,480" fill="none" stroke="#111" stroke-width="0.9"/>
<polyline points="235.97,492.23 248.29,481.41" fill="none" stroke="#111" stroke-width="0.9"/>
<polyline points="195.62,503.27 207.1,516.35 204.77,518.39" fill="none" stroke="#000" stroke-width="6.2" stroke-linejoin="miter" stroke-linecap="butt" stroke-miterlimit="10"/>
<polyline points="178.64,518.19 190.12,531.26 192.45,529.22" fill="none" stroke="#000" stroke-width="6.2" stroke-linejoin="miter" stroke-linecap="butt" stroke-miterlimit="10"/>
<polygon points="194.3,531.32 206.62,520.5 202.93,516.29 190.61,527.11" fill="#fff" stroke="#111" stroke-width="0.9"/>
<polyline points="191.84,528.51 204.16,517.69" fill="none" stroke="#111" stroke-width="0.9"/>
<polyline points="193.07,529.92 205.39,519.09" fill="none" stroke="#111" stroke-width="0.9"/>
<ellipse cx="207.16" cy="363.08" rx="3.6" ry="2.4" transform="rotate(-41.3 207.16 363.08)" fill="none" stroke="#222" stroke-width="0.9"/>
<polyline points="204.78,372.49 216.8,361.93" fill="none" stroke="#444" stroke-width="0.7"/>
<ellipse cx="277.81" cy="444.11" rx="3.6" ry="2.4" transform="rotate(-41.3 277.81 444.11)" fill="none" stroke="#222" stroke-width="0.9"/>
<polyline points="268.47,444.99 280.49,434.43" fill="none" stroke="#444" stroke-width="0.7"/>
<polyline points="207.35,387.54 187.82,404.7 183.2,399.44" fill="none" stroke="#333" stroke-width="0.8" stroke-dasharray="4.5 4"/>
<polyline points="162.92,417.26 167.54,422.52 145.75,441.66 141.13,436.4" fill="none" stroke="#333" stroke-width="0.8" stroke-dasharray="4.5 4"/>
<polyline points="122.83,456.48 172.33,512.82 175.33,510.18" fill="none" stroke="#333" stroke-width="0.8" stroke-dasharray="4.5 4"/>
<polyline points="195.82,500.17 191.2,494.91 213.74,475.11 218.36,480.37" fill="none" stroke="#333" stroke-width="0.8" stroke-dasharray="4.5 4"/>
<polyline points="227.25,364.74 233.26,359.46 243.82,371.48" fill="none" stroke="#333" stroke-width="0.8" stroke-dasharray="4.5 4"/>
<polyline points="206.97,382.56 218.19,395.33 223.45,390.71" fill="none" stroke="#333" stroke-width="0.8" stroke-dasharray="4.5 4"/>
<polyline points="234.02,457.29 243.04,449.37" fill="none" stroke="#333" stroke-width="0.8" stroke-dasharray="4.5 4"/>
<polyline points="254.67,433.82 267.44,422.6" fill="none" stroke="#333" stroke-width="0.8" stroke-dasharray="4.5 4"/>
<polyline points="278.14,410.54 282.65,406.58" fill="none" stroke="#333" stroke-width="0.8" stroke-dasharray="4.5 4"/>
<text x="169.2" y="434" font-size="8.4" text-anchor="start" class="c" textLength="37.2" lengthAdjust="spacingAndGlyphs">BEDROOM/</text>
<text x="173.4" y="444.4" font-size="8.4" text-anchor="start" class="c" textLength="31.3" lengthAdjust="spacingAndGlyphs">AU-PAIR</text>
<text x="177.5" y="453.5" font-size="8.4" text-anchor="start" class="c" textLength="18.2" lengthAdjust="spacingAndGlyphs">SUITE</text>
<text x="166.3" y="462.3" font-size="8.4" text-anchor="start" class="c" textLength="52.1" lengthAdjust="spacingAndGlyphs">18'5" x 14'11"</text>
<text x="166.3" y="471.2" font-size="8.4" text-anchor="start" class="c" textLength="55" lengthAdjust="spacingAndGlyphs">(5.6m x 4.5m)</text>
<rect x="508.7" y="301.4" width="51.9" height="18.3" fill="none" stroke="#666" stroke-width="1.5"/>
<polyline points="512.9,301.4 512.9,319.7" fill="none" stroke="#666" stroke-width="1.1"/>
<polyline points="518.1,301.4 518.1,319.7" fill="none" stroke="#666" stroke-width="1.1"/>
<polyline points="522.4,301.4 522.4,319.7" fill="none" stroke="#666" stroke-width="1.1"/>
<polyline points="526.6,301.4 526.6,319.7" fill="none" stroke="#666" stroke-width="1.1"/>
<polyline points="543.1,301.4 543.1,319.7" fill="none" stroke="#666" stroke-width="1.1"/>
<polyline points="547.4,301.4 547.4,319.7" fill="none" stroke="#666" stroke-width="1.1"/>
<polyline points="551.6,301.4 551.6,319.7" fill="none" stroke="#666" stroke-width="1.1"/>
<polyline points="556.8,301.4 556.8,319.7" fill="none" stroke="#666" stroke-width="1.1"/>
<polyline points="518.5,311.2 527.5,311.2" fill="none" stroke="#111" stroke-width="0.9"/>
<polyline points="542.3,311.2 551.3,311.2" fill="none" stroke="#111" stroke-width="0.9"/>
<polygon points="518,311.2 520.6,310.1 520.6,312.3" fill="#111"/>
<polygon points="551.8,311.2 549.2,310.1 549.2,312.3" fill="#111"/>
<path d="M508.7 319.7C508.7 344 521 358 534.6 363.4C548 358 560.6 344 560.6 319.7" fill="none" stroke="#666" stroke-width="2"/>
<polyline points="525.7,319.7 525.7,327.5 544,336.5 544,319.7" fill="none" stroke="#555" stroke-width="1.3"/>
<polyline points="525.7,323.3 544,323.3" fill="none" stroke="#555" stroke-width="1"/>
<polyline points="525.7,327.5 544,327.5" fill="none" stroke="#555" stroke-width="1"/>
<polyline points="535.6,332.3 544,332.3" fill="none" stroke="#555" stroke-width="1"/>
<polyline points="453.3,407 453.3,437.6 611.3,437.6 611.3,407" fill="none" stroke="#555" stroke-width="1.7"/>
<circle cx="457.7" cy="432.6" r="2.7" fill="none" stroke="#333" stroke-width="0.9"/>
<circle cx="504.9" cy="432.6" r="2.7" fill="none" stroke="#333" stroke-width="0.9"/>
<circle cx="554.9" cy="432.6" r="2.7" fill="none" stroke="#333" stroke-width="0.9"/>
<circle cx="607.8" cy="432.6" r="2.7" fill="none" stroke="#333" stroke-width="0.9"/>
<rect x="515" y="417" width="35" height="9.4" fill="none" stroke="#555" stroke-width="1.1"/>
<text x="517.3" y="424.6" font-size="7.6" text-anchor="start" class="c" textLength="30.7" lengthAdjust="spacingAndGlyphs">BALCONY</text>
<path d="M535 409l-3 3h1.7v3.4h2.6v-3.4h1.7z" fill="none" stroke="#111" stroke-width="0.8"/>
<polyline points="523.7,404.2 547.3,404.2" fill="none" stroke="#fff" stroke-width="7.8" stroke-linejoin="miter" stroke-linecap="butt" stroke-miterlimit="10"/>
<path d="M523.7 401.5L523.7 389.7A11.8 11.8 0 0 1 535.5 401.5" fill="none" stroke="#222" stroke-width="0.9"/>
<path d="M547.3 401.5L547.3 389.7A11.8 11.8 0 0 0 535.5 401.5" fill="none" stroke="#222" stroke-width="0.9"/>
<text x="522.5" y="452.2" font-size="8.2" text-anchor="start" class="c" textLength="46" lengthAdjust="spacingAndGlyphs">FIRST FLOOR</text>
<polygon points="326.11,469.97 372.5,469.9 372.5,465.1 326.11,465.17" fill="#fff" stroke="#111" stroke-width="0.9"/>
<polyline points="326.11,467.57 372.5,467.5" fill="none" stroke="#111" stroke-width="0.9"/>
<polygon points="370.67,469.05 407.17,512.05 410.83,508.95 374.33,465.95" fill="#fff" stroke="#111" stroke-width="0.9"/>
<polyline points="372.5,467.5 409,510.5" fill="none" stroke="#111" stroke-width="0.9"/>
<polygon points="406.6,510.5 406.6,523 411.4,523 411.4,510.5" fill="#fff" stroke="#111" stroke-width="0.9"/>
<polyline points="409,510.5 409,523" fill="none" stroke="#111" stroke-width="0.9"/>
<polygon points="200.66,575.49 197.11,620.81 201.89,621.19 205.45,575.86" fill="#fff" stroke="#111" stroke-width="0.9"/>
<polyline points="203.05,575.68 199.5,621" fill="none" stroke="#111" stroke-width="0.9"/>
<polygon points="197.71,622.6 234.71,663.9 238.29,660.7 201.29,619.4" fill="#fff" stroke="#111" stroke-width="0.9"/>
<polyline points="199.5,621 236.5,662.3" fill="none" stroke="#111" stroke-width="0.9"/>
<polygon points="236.43,664.7 279.93,665.9 280.07,661.1 236.57,659.9" fill="#fff" stroke="#111" stroke-width="0.9"/>
<polyline points="236.5,662.3 280,663.5" fill="none" stroke="#111" stroke-width="0.9"/>
<polygon points="281.29,665.53 292.79,658.23 290.21,654.17 278.71,661.47" fill="#fff" stroke="#111" stroke-width="0.9"/>
<polyline points="280,663.5 291.5,656.2" fill="none" stroke="#111" stroke-width="0.9"/>
<polygon points="324.23,466.03 315.96,473.29 319.13,476.89 327.39,469.63" fill="#fff" stroke="#111" stroke-width="0.9"/>
<polyline points="325.81,467.83 317.55,475.09" fill="none" stroke="#111" stroke-width="0.9"/>
<rect x="324.01" y="466.03" width="3.6" height="3.6" fill="#000" transform="rotate(-41.3 325.81 467.83)"/>
<rect x="315.75" y="473.29" width="3.6" height="3.6" fill="#000" transform="rotate(-41.3 317.55 475.09)"/>
<polygon points="294.18,492.43 273.89,510.25 277.06,513.85 297.34,496.03" fill="#fff" stroke="#111" stroke-width="0.9"/>
<polyline points="295.76,494.23 275.48,512.05" fill="none" stroke="#111" stroke-width="0.9"/>
<rect x="293.96" y="492.43" width="3.6" height="3.6" fill="#000" transform="rotate(-41.3 295.76 494.23)"/>
<rect x="273.68" y="510.25" width="3.6" height="3.6" fill="#000" transform="rotate(-41.3 275.48 512.05)"/>
<polygon points="252.1,529.39 236.78,542.85 239.95,546.46 255.27,532.99" fill="#fff" stroke="#111" stroke-width="0.9"/>
<polyline points="253.69,531.19 238.36,544.66" fill="none" stroke="#111" stroke-width="0.9"/>
<rect x="251.89" y="529.39" width="3.6" height="3.6" fill="#000" transform="rotate(-41.3 253.69 531.19)"/>
<rect x="236.56" y="542.86" width="3.6" height="3.6" fill="#000" transform="rotate(-41.3 238.36 544.66)"/>
<polygon points="215.89,561.2 201.47,573.87 204.64,577.48 219.06,564.81" fill="#fff" stroke="#111" stroke-width="0.9"/>
<polyline points="217.48,563 203.05,575.68" fill="none" stroke="#111" stroke-width="0.9"/>
<rect x="215.68" y="561.2" width="3.6" height="3.6" fill="#000" transform="rotate(-41.3 217.48 563)"/>
<rect x="201.25" y="573.88" width="3.6" height="3.6" fill="#000" transform="rotate(-41.3 203.05 575.68)"/>
<path d="M317.55 475.09L307.98 464.2A14.5 14.5 0 0 0 306.65 484.66" fill="none" stroke="#222" stroke-width="0.9"/>
<path d="M295.76 494.23L286.19 483.34A14.5 14.5 0 0 1 306.65 484.66" fill="none" stroke="#222" stroke-width="0.9"/>
<path d="M275.48 512.05L265.91 501.16A14.5 14.5 0 0 0 264.58 521.62" fill="none" stroke="#222" stroke-width="0.9"/>
<path d="M253.69 531.19L244.12 520.3A14.5 14.5 0 0 1 264.58 521.62" fill="none" stroke="#222" stroke-width="0.9"/>
<path d="M238.36 544.66L229.19 534.21A13.9 13.9 0 0 0 227.92 553.83" fill="none" stroke="#222" stroke-width="0.9"/>
<path d="M217.48 563L208.3 552.56A13.9 13.9 0 0 1 227.92 553.83" fill="none" stroke="#222" stroke-width="0.9"/>
<rect x="323.41" y="464.87" width="5.4" height="5.4" fill="#000" transform="rotate(20 326.11 467.57)"/>
<rect x="369.8" y="464.8" width="5.4" height="5.4" fill="#000" transform="rotate(20 372.5 467.5)"/>
<rect x="406.3" y="507.8" width="5.4" height="5.4" fill="#000" transform="rotate(20 409 510.5)"/>
<rect x="200.35" y="572.98" width="5.4" height="5.4" fill="#000" transform="rotate(20 203.05 575.68)"/>
<rect x="196.8" y="618.3" width="5.4" height="5.4" fill="#000" transform="rotate(20 199.5 621)"/>
<rect x="233.8" y="659.6" width="5.4" height="5.4" fill="#000" transform="rotate(20 236.5 662.3)"/>
<rect x="277.3" y="660.8" width="5.4" height="5.4" fill="#000" transform="rotate(20 280 663.5)"/>
<polygon points="406.6,557 406.6,586.6 411.4,586.6 411.4,557" fill="#fff" stroke="#111" stroke-width="0.9"/>
<polyline points="409,557 409,586.6" fill="none" stroke="#111" stroke-width="0.9"/>
<polygon points="406.6,612 406.6,620.8 411.4,620.8 411.4,612" fill="#fff" stroke="#111" stroke-width="0.9"/>
<polyline points="409,612 409,620.8" fill="none" stroke="#111" stroke-width="0.9"/>
<rect x="406" y="568.8" width="6.6" height="8.2" fill="#000"/>
<path d="M409 523L425.5 523A16.5 16.5 0 0 1 409 539.5" fill="none" stroke="#222" stroke-width="0.9"/>
<path d="M409 557L425.5 557A16.5 16.5 0 0 0 409 540.5" fill="none" stroke="#222" stroke-width="0.9"/>
<path d="M409 586.6L396.5 586.6A12.5 12.5 0 0 0 409 599.1" fill="none" stroke="#222" stroke-width="0.9"/>
<path d="M409 612L396.5 612A12.5 12.5 0 0 1 409 599.5" fill="none" stroke="#222" stroke-width="0.9"/>
<path d="M261.7 558.4L330.6 498.2L375.4 547L328.7 589.4L317.4 589.4L283 620.8Q270 632 257.5 623.5L244.7 608.6C254 606 262 602 266 592C270 580 267.5 566 261.7 558.4" fill="none" stroke="#222" stroke-width="0.9"/>
<circle cx="247.5" cy="583.2" r="18.4" fill="none" stroke="#222" stroke-width="0.9"/>
<text x="291.4" y="563.4" font-size="8.4" text-anchor="start" class="c" textLength="17" lengthAdjust="spacingAndGlyphs">POOL</text>
<text x="282.2" y="572" font-size="8.4" text-anchor="start" class="c" textLength="50.2" lengthAdjust="spacingAndGlyphs">37'6" x 18'8"</text>
<text x="278.7" y="581" font-size="8.4" text-anchor="start" class="c" textLength="56.8" lengthAdjust="spacingAndGlyphs">(11.4m x 5.7m)</text>
<polyline points="408.7,620.8 408.7,713.6" fill="none" stroke="#000" stroke-width="6.3" stroke-linejoin="miter" stroke-linecap="butt" stroke-miterlimit="10"/>
<polyline points="299.8,652.8 351,686.7 437,686.7" fill="none" stroke="#000" stroke-width="6.6" stroke-linejoin="miter" stroke-linecap="butt" stroke-miterlimit="10"/>
<polyline points="465.8,686.9 496.4,686.9" fill="none" stroke="#000" stroke-width="6.4" stroke-linejoin="miter" stroke-linecap="butt" stroke-miterlimit="10"/>
<polyline points="299.8,654 313.8,633.8 321.3,633.8" fill="none" stroke="#000" stroke-width="5" stroke-linejoin="miter" stroke-linecap="butt" stroke-miterlimit="10"/>
<polyline points="301.5,650.6 291,657.2" fill="none" stroke="#000" stroke-width="6" stroke-linejoin="miter" stroke-linecap="butt" stroke-miterlimit="10"/>
<polyline points="335.3,633.8 353.5,643.3 336.1,672.6" fill="none" stroke="#000" stroke-width="4.8" stroke-linejoin="miter" stroke-linecap="butt" stroke-miterlimit="10"/>
<path d="M321.3 633.8L321.3 621.4A12.4 12.4 0 0 1 333.7 633.8" fill="none" stroke="#222" stroke-width="0.9"/>
<text x="314.3" y="653" font-size="8.4" text-anchor="start" class="c" textLength="24.3" lengthAdjust="spacingAndGlyphs">SAUNA</text>
<polyline points="368,633.8 379,627.7 405.8,627.7" fill="none" stroke="#000" stroke-width="3.6" stroke-linejoin="miter" stroke-linecap="butt" stroke-miterlimit="10"/>
<rect x="365.8" y="630.4" width="4.2" height="5.2" fill="#000"/>
<polyline points="366.4,649.2 379,658.1 405.8,658.1" fill="none" stroke="#000" stroke-width="3.6" stroke-linejoin="miter" stroke-linecap="butt" stroke-miterlimit="10"/>
<rect x="364.4" y="646.6" width="4.2" height="5" fill="#000"/>
<path d="M367.5 635L357.5 635A10 10 0 0 0 367.5 645" fill="none" stroke="#222" stroke-width="0.9"/>
<path d="M352.6 645.4L351.3 653.7A9 9 0 0 0 364.2 649.5" fill="none" stroke="#222" stroke-width="0.9"/>
<polygon points="346,660.3 359.2,667.7 352.6,680 338.6,672.6" fill="none" stroke="#555" stroke-width="1.3"/>
<polygon points="346.4,662.6 356.8,668.4 351.8,677.6 341.2,672" fill="none" stroke="#555" stroke-width="0.7"/>
<polyline points="343.5,673.5 355,668.5" fill="none" stroke="#444" stroke-width="0.8"/>
<path d="M363.2 683.4A4 4 0 0 1 371.2 683.4" fill="none" stroke="#222" stroke-width="0.9"/>
<circle cx="367.2" cy="682" r="1.5" fill="none" stroke="#222" stroke-width="0.7"/>
<ellipse cx="395.6" cy="670.2" rx="5" ry="4.6" transform="rotate(0 395.6 670.2)" fill="none" stroke="#222" stroke-width="0.9"/>
<polyline points="403.8,661 403.8,682.5" fill="none" stroke="#222" stroke-width="0.8"/>
<polyline points="400.5,664.5 400.5,676" fill="none" stroke="#222" stroke-width="0.8"/>
<polygon points="412,575.55 439.8,575.55 439.8,570.05 412,570.05" fill="#fff" stroke="#111" stroke-width="0.9"/>
<polyline points="412,572.8 439.8,572.8" fill="none" stroke="#111" stroke-width="0.9"/>
<polygon points="465,575.55 519.3,575.55 519.3,570.05 465,570.05" fill="#fff" stroke="#111" stroke-width="0.9"/>
<polyline points="465,572.8 519.3,572.8" fill="none" stroke="#111" stroke-width="0.9"/>
<polygon points="544,575.55 578.4,575.55 578.4,570.05 544,570.05" fill="#fff" stroke="#111" stroke-width="0.9"/>
<polyline points="544,572.8 578.4,572.8" fill="none" stroke="#111" stroke-width="0.9"/>
<rect x="424.9" y="570" width="1.6" height="5.6" fill="#000"/>
<rect x="477.9" y="570" width="1.6" height="5.6" fill="#000"/>
<rect x="490.9" y="570" width="1.6" height="5.6" fill="#000"/>
<rect x="505" y="570" width="1.6" height="5.6" fill="#000"/>
<rect x="556.9" y="570" width="1.6" height="5.6" fill="#000"/>
<rect x="569.9" y="570" width="1.6" height="5.6" fill="#000"/>
<rect x="406" y="568.8" width="6.8" height="8.2" fill="#000"/>
<polygon points="572.4,575.6 572.4,636 578.4,636 578.4,575.6" fill="#fff" stroke="#111" stroke-width="0.9"/>
<polyline points="575.4,575.6 575.4,636" fill="none" stroke="#111" stroke-width="0.9"/>
<rect x="572.4" y="586.9" width="6" height="1.6" fill="#000"/>
<rect x="572.4" y="597.7" width="6" height="1.6" fill="#000"/>
<rect x="572.4" y="610.5" width="6" height="1.6" fill="#000"/>
<rect x="572.4" y="623.5" width="6" height="1.6" fill="#000"/>
<rect x="560" y="636" width="18.5" height="6.5" fill="#000"/>
<polygon points="560.25,642.5 560.25,672.6 565.75,672.6 565.75,642.5" fill="#fff" stroke="#111" stroke-width="0.9"/>
<polyline points="563,642.5 563,672.6" fill="none" stroke="#111" stroke-width="0.9"/>
<rect x="560" y="672.6" width="6" height="5.4" fill="#000"/>
<path d="M439.8 572.8L439.8 560.2A12.6 12.6 0 0 1 452.4 572.8" fill="none" stroke="#222" stroke-width="0.9"/>
<path d="M465 572.8L465 560.2A12.6 12.6 0 0 0 452.4 572.8" fill="none" stroke="#222" stroke-width="0.9"/>
<path d="M519.3 572.8L519.3 560.4A12.4 12.4 0 0 1 531.7 572.8" fill="none" stroke="#222" stroke-width="0.9"/>
<path d="M544 572.8L544 560.4A12.4 12.4 0 0 0 531.6 572.8" fill="none" stroke="#222" stroke-width="0.9"/>
<polyline points="412,620.3 565.3,620.3 565.3,636" fill="none" stroke="#333" stroke-width="0.8"/>
<polyline points="412,636.6 560,636.6" fill="none" stroke="#333" stroke-width="0.8"/>
<polyline points="486.5,618 486.5,622.6" fill="none" stroke="#111" stroke-width="1.2"/>
<polyline points="486.5,634.3 486.5,638.9" fill="none" stroke="#111" stroke-width="1.2"/>
<polyline points="412,620.6 424,620.6" fill="none" stroke="#333" stroke-width="0.8"/>
<text x="461" y="595.4" font-size="8.4" text-anchor="start" class="c" textLength="56" lengthAdjust="spacingAndGlyphs">CONSERVATORY</text>
<text x="470" y="603.8" font-size="8.4" text-anchor="start" class="c" textLength="49.3" lengthAdjust="spacingAndGlyphs">27'4" x 18'4"</text>
<text x="467.4" y="612.4" font-size="8.4" text-anchor="start" class="c" textLength="55" lengthAdjust="spacingAndGlyphs">(8.3m x 5.6m)</text>
<path d="M437.5 686.8L437.5 672.6A14.2 14.2 0 0 1 451.7 686.8" fill="none" stroke="#222" stroke-width="0.9"/>
<path d="M465.8 686.8L465.8 672.6A14.2 14.2 0 0 0 451.6 686.8" fill="none" stroke="#222" stroke-width="0.9"/>
<polyline points="490.5,680.1 513,680.1" fill="none" stroke="#000" stroke-width="7" stroke-linejoin="miter" stroke-linecap="butt" stroke-miterlimit="10"/>
<polygon points="498.8,683.6 508.2,683.6 508.2,676.6 498.8,676.6" fill="#fff" stroke="#111" stroke-width="0.9"/>
<polyline points="498.8,678.93 508.2,678.93" fill="none" stroke="#111" stroke-width="0.9"/>
<polyline points="498.8,681.27 508.2,681.27" fill="none" stroke="#111" stroke-width="0.9"/>
<polyline points="543,680.1 590.2,680.1" fill="none" stroke="#000" stroke-width="7" stroke-linejoin="miter" stroke-linecap="butt" stroke-miterlimit="10"/>
<polygon points="549.5,683.6 557.7,683.6 557.7,676.6 549.5,676.6" fill="#fff" stroke="#111" stroke-width="0.9"/>
<polyline points="549.5,678.93 557.7,678.93" fill="none" stroke="#111" stroke-width="0.9"/>
<polyline points="549.5,681.27 557.7,681.27" fill="none" stroke="#111" stroke-width="0.9"/>
<path d="M513 679.2L513 663.8A15.4 15.4 0 0 1 528.4 679.2" fill="none" stroke="#222" stroke-width="0.9"/>
<path d="M544 679.2L544 663.8A15.4 15.4 0 0 0 528.6 679.2" fill="none" stroke="#222" stroke-width="0.9"/>
<polyline points="494,676.6 494,799.3" fill="none" stroke="#000" stroke-width="4.7" stroke-linejoin="miter" stroke-linecap="butt" stroke-miterlimit="10"/>
<polyline points="586,683 586,732.5" fill="none" stroke="#000" stroke-width="4.7" stroke-linejoin="miter" stroke-linecap="butt" stroke-miterlimit="10"/>
<polyline points="586,745.5 586,799.3" fill="none" stroke="#000" stroke-width="4.7" stroke-linejoin="miter" stroke-linecap="butt" stroke-miterlimit="10"/>
<path d="M588.4 745.5L601.4 745.5A13 13 0 0 0 588.4 732.5" fill="none" stroke="#222" stroke-width="0.9"/>
<polyline points="491.7,797.4 525.2,797.4" fill="none" stroke="#000" stroke-width="3.8" stroke-linejoin="miter" stroke-linecap="butt" stroke-miterlimit="10"/>
<polyline points="553.8,797.4 588.4,797.4" fill="none" stroke="#000" stroke-width="3.8" stroke-linejoin="miter" stroke-linecap="butt" stroke-miterlimit="10"/>
<path d="M525.2 796L525.2 782A14 14 0 0 1 539.2 796" fill="none" stroke="#222" stroke-width="0.9"/>
<path d="M553.8 796L553.8 782A14 14 0 0 0 539.8 796" fill="none" stroke="#222" stroke-width="0.9"/>
<rect x="484.2" y="733.7" width="20.5" height="32.5" fill="#000"/>
<rect x="486" y="743.6" width="5.7" height="13.7" fill="#fff"/>
<text x="529.9" y="727.6" font-size="8.4" text-anchor="start" class="c" textLength="22.6" lengthAdjust="spacingAndGlyphs">DINING</text>
<text x="531.8" y="736.1" font-size="8.4" text-anchor="start" class="c" textLength="18.9" lengthAdjust="spacingAndGlyphs">ROOM</text>
<text x="520.7" y="744.2" font-size="8.4" text-anchor="start" class="c" textLength="51.7" lengthAdjust="spacingAndGlyphs">19'3" x 14'11"</text>
<text x="521.2" y="753.1" font-size="8.4" text-anchor="start" class="c" textLength="54.2" lengthAdjust="spacingAndGlyphs">(5.9m x 4.5m)</text>
<text x="414.3" y="756.6" font-size="8.4" text-anchor="start" class="c" textLength="29.5" lengthAdjust="spacingAndGlyphs">KITCHEN</text>
<text x="411" y="765.4" font-size="8.4" text-anchor="start" class="c" textLength="48.9" lengthAdjust="spacingAndGlyphs">41'5" x 22'8"</text>
<text x="406.8" y="774.3" font-size="8.4" text-anchor="start" class="c" textLength="59" lengthAdjust="spacingAndGlyphs">(12.6m x 6.9m)</text>
<rect x="585" y="676" width="5.2" height="8" fill="#000"/>
<polyline points="585,686.9 662.8,686.9" fill="none" stroke="#000" stroke-width="6.6" stroke-linejoin="miter" stroke-linecap="butt" stroke-miterlimit="10"/>
<polyline points="691.6,686.9 767.8,686.9" fill="none" stroke="#000" stroke-width="6.6" stroke-linejoin="miter" stroke-linecap="butt" stroke-miterlimit="10"/>
<polygon points="621.6,690.2 638.8,690.2 638.8,683.6 621.6,683.6" fill="#fff" stroke="#111" stroke-width="0.9"/>
<polyline points="621.6,685.8 638.8,685.8" fill="none" stroke="#111" stroke-width="0.9"/>
<polyline points="621.6,688 638.8,688" fill="none" stroke="#111" stroke-width="0.9"/>
<polygon points="715.9,690.2 733.1,690.2 733.1,683.6 715.9,683.6" fill="#fff" stroke="#111" stroke-width="0.9"/>
<polyline points="715.9,685.8 733.1,685.8" fill="none" stroke="#111" stroke-width="0.9"/>
<polyline points="715.9,688 733.1,688" fill="none" stroke="#111" stroke-width="0.9"/>
<path d="M662.8 684.8L662.8 670.6A14.2 14.2 0 0 1 677 684.8" fill="none" stroke="#222" stroke-width="0.9"/>
<path d="M691.6 684.8L691.6 670.6A14.2 14.2 0 0 0 677.4 684.8" fill="none" stroke="#222" stroke-width="0.9"/>
<polyline points="764.6,683.6 764.6,817.3" fill="none" stroke="#000" stroke-width="6.4" stroke-linejoin="miter" stroke-linecap="butt" stroke-miterlimit="10"/>
<text x="666.4" y="738.4" font-size="8.4" text-anchor="start" class="c" textLength="31.3" lengthAdjust="spacingAndGlyphs">DRAWING</text>
<text x="672.3" y="746.6" font-size="8.4" text-anchor="start" class="c" textLength="18.8" lengthAdjust="spacingAndGlyphs">ROOM</text>
<text x="667.1" y="754.9" font-size="8.4" text-anchor="start" class="c" textLength="40.5" lengthAdjust="spacingAndGlyphs">29'7" x 21'</text>
<text x="661.7" y="764.3" font-size="8.4" text-anchor="start" class="c" textLength="54.2" lengthAdjust="spacingAndGlyphs">(9.0m x 6.4m)</text>
<polyline points="623.8,834.2 644.6,815.1 762,815.1" fill="none" stroke="#000" stroke-width="4.3" stroke-linejoin="miter" stroke-linecap="butt" stroke-miterlimit="10"/>
<rect x="652.2" y="798.4" width="5.9" height="25.9" fill="#000"/>
<rect x="705.8" y="798.4" width="6.1" height="16.6" fill="#000"/>
<rect x="682.9" y="815" width="5.9" height="9.3" fill="#000"/>
<polyline points="658.1,802.9 672.3,802.9 672.3,805.9 691.1,805.9 691.1,802.9 705.8,802.9" fill="none" stroke="#333" stroke-width="0.9"/>
<text x="676.6" y="804.6" font-size="8.6" text-anchor="start" class="c" textLength="9.6" lengthAdjust="spacingAndGlyphs">FP</text>
<text x="666" y="825.6" font-size="8.6" text-anchor="start" class="c" textLength="9.6" lengthAdjust="spacingAndGlyphs">FP</text>
<polyline points="761.9,814 774.9,814" fill="none" stroke="#000" stroke-width="6.6" stroke-linejoin="miter" stroke-linecap="butt" stroke-miterlimit="10"/>
<polyline points="771.7,810.7 771.7,880.2" fill="none" stroke="#000" stroke-width="6.4" stroke-linejoin="miter" stroke-linecap="butt" stroke-miterlimit="10"/>
<polyline points="721.8,877.3 774.9,877.3" fill="none" stroke="#000" stroke-width="6" stroke-linejoin="miter" stroke-linecap="butt" stroke-miterlimit="10"/>
<polygon points="744.2,880.3 758.3,880.3 758.3,874.3 744.2,874.3" fill="#fff" stroke="#111" stroke-width="0.9"/>
<polyline points="744.2,876.3 758.3,876.3" fill="none" stroke="#111" stroke-width="0.9"/>
<polyline points="744.2,878.3 758.3,878.3" fill="none" stroke="#111" stroke-width="0.9"/>
<polyline points="723.3,817.3 723.3,833" fill="none" stroke="#000" stroke-width="4" stroke-linejoin="miter" stroke-linecap="butt" stroke-miterlimit="10"/>
<polyline points="723.3,847.2 723.3,876" fill="none" stroke="#000" stroke-width="4" stroke-linejoin="miter" stroke-linecap="butt" stroke-miterlimit="10"/>
<polyline points="724.5,874.3 724.5,902.6" fill="none" stroke="#000" stroke-width="6.4" stroke-linejoin="miter" stroke-linecap="butt" stroke-miterlimit="10"/>
<path d="M725.3 833.8L737.8 833.8A12.5 12.5 0 0 1 725.3 846.3" fill="none" stroke="#222" stroke-width="0.9"/>
<polyline points="613,899.3 727.7,899.3" fill="none" stroke="#000" stroke-width="6.6" stroke-linejoin="miter" stroke-linecap="butt" stroke-miterlimit="10"/>
<polygon points="627.5,902.6 644.4,902.6 644.4,896 627.5,896" fill="#fff" stroke="#111" stroke-width="0.9"/>
<polyline points="627.5,898.2 644.4,898.2" fill="none" stroke="#111" stroke-width="0.9"/>
<polyline points="627.5,900.4 644.4,900.4" fill="none" stroke="#111" stroke-width="0.9"/>
<polygon points="658.6,902.6 675.8,902.6 675.8,896 658.6,896" fill="#fff" stroke="#111" stroke-width="0.9"/>
<polyline points="658.6,898.2 675.8,898.2" fill="none" stroke="#111" stroke-width="0.9"/>
<polyline points="658.6,900.4 675.8,900.4" fill="none" stroke="#111" stroke-width="0.9"/>
<polygon points="689.5,902.6 706.5,902.6 706.5,896 689.5,896" fill="#fff" stroke="#111" stroke-width="0.9"/>
<polyline points="689.5,898.2 706.5,898.2" fill="none" stroke="#111" stroke-width="0.9"/>
<polyline points="689.5,900.4 706.5,900.4" fill="none" stroke="#111" stroke-width="0.9"/>
<polyline points="615.4,850.8 615.4,923.4" fill="none" stroke="#000" stroke-width="5" stroke-linejoin="miter" stroke-linecap="butt" stroke-miterlimit="10"/>
<text x="735.9" y="844.7" font-size="8.4" text-anchor="start" class="c" textLength="22.4" lengthAdjust="spacingAndGlyphs">STUDY</text>
<text x="730.8" y="853" font-size="8.4" text-anchor="start" class="c" textLength="40.5" lengthAdjust="spacingAndGlyphs">9'8" x 7'5"</text>
<text x="726" y="861.4" font-size="8.4" text-anchor="start" class="c" textLength="54.8" lengthAdjust="spacingAndGlyphs">(2.9m x 2.3m)</text>
<text x="660.5" y="856.5" font-size="8.4" text-anchor="start" class="c" textLength="23.1" lengthAdjust="spacingAndGlyphs">OFFICE</text>
<text x="658.1" y="865" font-size="8.4" text-anchor="start" class="c" textLength="40.1" lengthAdjust="spacingAndGlyphs">16' x 13'7"</text>
<text x="651.7" y="873.7" font-size="8.4" text-anchor="start" class="c" textLength="54.8" lengthAdjust="spacingAndGlyphs">(4.9m x 4.1m)</text>
<polyline points="509.1,835.7 509.1,819.6 570.9,819.6 570.9,835.7" fill="none" stroke="#000" stroke-width="3.8" stroke-linejoin="miter" stroke-linecap="butt" stroke-miterlimit="10"/>
<polyline points="485.77,859.94 487.62,856.82 489.65,853.82 491.85,850.94 494.22,848.19 496.74,845.59 499.41,843.14 502.21,840.85 505.15,838.72 508.21,836.77 511.37,835.01" fill="none" stroke="#222" stroke-width="0.8"/>
<polyline points="568.63,835.01 571.79,836.77 574.85,838.72 577.79,840.85 580.59,843.14 583.26,845.59 585.78,848.19 588.15,850.94 590.35,853.82 592.38,856.82 594.23,859.94" fill="none" stroke="#222" stroke-width="0.8"/>
<polyline points="483.59,858.73 485.51,855.49 487.62,852.36 489.91,849.37 492.37,846.51 494.99,843.8 497.77,841.25 500.69,838.86 503.75,836.65 506.92,834.63 510.22,832.79" fill="none" stroke="#222" stroke-width="0.8"/>
<polyline points="569.78,832.79 573.08,834.63 576.25,836.65 579.31,838.86 582.23,841.25 585.01,843.8 587.63,846.51 590.09,849.37 592.38,852.36 594.49,855.49 596.41,858.73" fill="none" stroke="#222" stroke-width="0.8"/>
<polyline points="481.4,857.52 483.4,854.15 485.59,850.9 487.97,847.79 490.52,844.82 493.25,842.01 496.13,839.36 499.17,836.88 502.34,834.59 505.64,832.48 509.06,830.57" fill="none" stroke="#222" stroke-width="0.8"/>
<polyline points="570.94,830.57 574.36,832.48 577.66,834.59 580.83,836.88 583.87,839.36 586.75,842.01 589.48,844.82 592.03,847.79 594.41,850.9 596.6,854.15 598.6,857.52" fill="none" stroke="#222" stroke-width="0.8"/>
<polyline points="479.21,856.31 481.29,852.81 483.56,849.44 486.03,846.22 488.68,843.14 491.5,840.22 494.5,837.47 497.64,834.9 500.94,832.52 504.36,830.33 507.91,828.35" fill="none" stroke="#222" stroke-width="0.8"/>
<polyline points="572.09,828.35 575.64,830.33 579.06,832.52 582.36,834.9 585.5,837.47 588.5,840.22 591.32,843.14 593.97,846.22 596.44,849.44 598.71,852.81 600.79,856.31" fill="none" stroke="#222" stroke-width="0.8"/>
<polyline points="496.16,846.16 490.86,840.86" fill="none" stroke="#111" stroke-width="0.9"/>
<polyline points="583.84,846.16 589.14,840.86" fill="none" stroke="#111" stroke-width="0.9"/>
<polyline points="485.77,859.94 479.21,856.31" fill="none" stroke="#222" stroke-width="0.8"/>
<polyline points="594.23,859.94 600.79,856.31" fill="none" stroke="#222" stroke-width="0.8"/>
<polyline points="493.3,797.4 482.2,806.3" fill="none" stroke="#000" stroke-width="4.6" stroke-linejoin="miter" stroke-linecap="butt" stroke-miterlimit="10"/>
<polyline points="587,797.4 596.8,806.4" fill="none" stroke="#000" stroke-width="4.6" stroke-linejoin="miter" stroke-linecap="butt" stroke-miterlimit="10"/>
<path d="M483.9 805.7L473.6 793.98A15.6 15.6 0 0 0 472.18 816" fill="none" stroke="#222" stroke-width="0.9"/>
<path d="M460 827.1L449.7 815.38A15.6 15.6 0 0 1 471.72 816.8" fill="none" stroke="#222" stroke-width="0.9"/>
<path d="M595.6 806.2L607.52 795.83A15.8 15.8 0 0 1 605.97 818.12" fill="none" stroke="#222" stroke-width="0.9"/>
<path d="M618 829.5L629.92 819.13A15.8 15.8 0 0 0 607.63 817.58" fill="none" stroke="#222" stroke-width="0.9"/>
<polyline points="616.8,829.5 628.8,840.3" fill="none" stroke="#000" stroke-width="3.6" stroke-linejoin="miter" stroke-linecap="butt" stroke-miterlimit="10"/>
<path d="M628.6 840L634.54 849.5A11.2 11.2 0 0 1 618.71 845.26" fill="none" stroke="#222" stroke-width="0.9"/>
<polyline points="584.3,880.6 615.6,850.4" fill="none" stroke="#000" stroke-width="4.6" stroke-linejoin="miter" stroke-linecap="butt" stroke-miterlimit="10"/>
<polyline points="586,878.5 586,894.5" fill="none" stroke="#000" stroke-width="4.2" stroke-linejoin="miter" stroke-linecap="butt" stroke-miterlimit="10"/>
<polyline points="586,904.2 586,918" fill="none" stroke="#000" stroke-width="4.2" stroke-linejoin="miter" stroke-linecap="butt" stroke-miterlimit="10"/>
<path d="M585.3 904.2L574.3 904.2A11 11 0 0 1 585.3 893.2" fill="none" stroke="#222" stroke-width="0.9"/>
<circle cx="603.2" cy="875.4" r="4.1" fill="none" stroke="#222" stroke-width="0.9"/>
<circle cx="603.2" cy="875.4" r="1" fill="none" stroke="#222" stroke-width="0.7"/>
<polyline points="596,870 613,870" fill="none" stroke="#333" stroke-width="0.8"/>
<polyline points="588,881.2 613,881.2" fill="none" stroke="#333" stroke-width="0.8"/>
<ellipse cx="599.6" cy="907.2" rx="4.2" ry="5.7" transform="rotate(0 599.6 907.2)" fill="none" stroke="#222" stroke-width="0.9"/>
<rect x="594" y="913.2" width="11" height="3.2" fill="none" stroke="#222" stroke-width="0.8"/>
<polyline points="461.6,920.3 527.8,920.3" fill="none" stroke="#000" stroke-width="6.2" stroke-linejoin="miter" stroke-linecap="butt" stroke-miterlimit="10"/>
<polyline points="554.7,920.3 618,920.3" fill="none" stroke="#000" stroke-width="6.2" stroke-linejoin="miter" stroke-linecap="butt" stroke-miterlimit="10"/>
<polygon points="474.5,923.4 484.8,923.4 484.8,917.2 474.5,917.2" fill="#fff" stroke="#111" stroke-width="0.9"/>
<polyline points="474.5,919.27 484.8,919.27" fill="none" stroke="#111" stroke-width="0.9"/>
<polyline points="474.5,921.33 484.8,921.33" fill="none" stroke="#111" stroke-width="0.9"/>
<polygon points="499.5,923.4 514.5,923.4 514.5,917.2 499.5,917.2" fill="#fff" stroke="#111" stroke-width="0.9"/>
<polyline points="499.5,919.27 514.5,919.27" fill="none" stroke="#111" stroke-width="0.9"/>
<polyline points="499.5,921.33 514.5,921.33" fill="none" stroke="#111" stroke-width="0.9"/>
<polygon points="565.5,923.4 579.6,923.4 579.6,917.2 565.5,917.2" fill="#fff" stroke="#111" stroke-width="0.9"/>
<polyline points="565.5,919.27 579.6,919.27" fill="none" stroke="#111" stroke-width="0.9"/>
<polyline points="565.5,921.33 579.6,921.33" fill="none" stroke="#111" stroke-width="0.9"/>
<polygon points="593.2,923.4 604,923.4 604,917.2 593.2,917.2" fill="#fff" stroke="#111" stroke-width="0.9"/>
<polyline points="593.2,919.27 604,919.27" fill="none" stroke="#111" stroke-width="0.9"/>
<polyline points="593.2,921.33 604,921.33" fill="none" stroke="#111" stroke-width="0.9"/>
<path d="M527.8 919.2L527.8 905.7A13.5 13.5 0 0 1 541.3 919.2" fill="none" stroke="#222" stroke-width="0.9"/>
<path d="M554.7 919.2L554.7 905.7A13.5 13.5 0 0 0 541.2 919.2" fill="none" stroke="#222" stroke-width="0.9"/>
<path d="M547 921.4l-3 3h1.7v3.4h2.6v-3.4h1.7z" fill="none" stroke="#111" stroke-width="0.8"/>
<circle cx="463" cy="947.5" r="2.8" fill="none" stroke="#333" stroke-width="0.9"/>
<circle cx="510.3" cy="947.5" r="2.8" fill="none" stroke="#333" stroke-width="0.9"/>
<circle cx="559.8" cy="947.5" r="2.8" fill="none" stroke="#333" stroke-width="0.9"/>
<circle cx="613.6" cy="947.5" r="2.8" fill="none" stroke="#333" stroke-width="0.9"/>
<polyline points="494.2,870.9 494.2,889.9" fill="none" stroke="#000" stroke-width="4.2" stroke-linejoin="miter" stroke-linecap="butt" stroke-miterlimit="10"/>
<polyline points="494.2,903.9 494.2,918" fill="none" stroke="#000" stroke-width="4.2" stroke-linejoin="miter" stroke-linecap="butt" stroke-miterlimit="10"/>
<path d="M496.3 890.8L507.8 890.8A11.5 11.5 0 0 1 496.3 902.3" fill="none" stroke="#222" stroke-width="0.9"/>
<polyline points="529.5,844.5 529.5,865.5 549,865.5 549,855 529.5,844.5" fill="none" stroke="#555" stroke-width="1.1"/>
<polyline points="529.5,849 537.87,849" fill="none" stroke="#555" stroke-width="0.8"/>
<polyline points="529.5,853 545.31,853" fill="none" stroke="#555" stroke-width="0.8"/>
<polyline points="529.5,857 549,857" fill="none" stroke="#555" stroke-width="0.8"/>
<polyline points="529.5,861 549,861" fill="none" stroke="#555" stroke-width="0.8"/>
<rect x="527.8" y="865.5" width="23" height="3" rx="1.5" fill="none" stroke="#555" stroke-width="0.9"/>
<polyline points="539,860 539,869" fill="none" stroke="#333" stroke-width="0.9"/>
<text x="523.4" y="876.3" font-size="8.4" text-anchor="start" class="c" textLength="35.3" lengthAdjust="spacingAndGlyphs">ENTRANCE</text>
<text x="532.3" y="884.8" font-size="8.4" text-anchor="start" class="c" textLength="16.9" lengthAdjust="spacingAndGlyphs">HALL</text>
<text x="523.4" y="892.6" font-size="8.4" text-anchor="start" class="c" textLength="48.5" lengthAdjust="spacingAndGlyphs">16'2" x 14'9"</text>
<text x="521.9" y="901" font-size="8.4" text-anchor="start" class="c" textLength="52.8" lengthAdjust="spacingAndGlyphs">(4.9m x 4.5m)</text>
<text x="520.4" y="995" font-size="8.2" text-anchor="start" class="c" textLength="54.9" lengthAdjust="spacingAndGlyphs">GROUND FLOOR</text>
<polyline points="451.6,838.42 454.15,839.72 456.62,841.18 458.99,842.79 461.24,844.56 463.38,846.47 465.39,848.52 467.26,850.69 468.98,852.98 470.56,855.38 471.97,857.87 473.22,860.45 474.29,863.11 475.2,865.83 475.92,868.6 476.46,871.42 476.81,874.26 476.98,877.12 476.97,879.99 476.76,882.85 476.38,885.69 475.8,888.5 475.05,891.26 474.11,893.97 473.01,896.62 471.73,899.18 470.29,901.66 468.69,904.04 466.94,906.31 465.04,908.46 463.01,910.48" fill="none" stroke="#000" stroke-width="2"/>
<polyline points="387.96,885.43 387.63,882.92 387.45,880.39 387.4,877.85 387.5,875.32 387.73,872.79 388.11,870.28 388.63,867.8 389.28,865.35 390.07,862.94 390.99,860.57 392.04,858.27 393.21,856.02 394.51,853.84 395.93,851.74 397.47,849.72 399.11,847.79" fill="none" stroke="#000" stroke-width="4.6" stroke-linejoin="miter" stroke-linecap="butt" stroke-miterlimit="10"/>
<polyline points="466.81,910.95 464.9,912.81 462.9,914.57 460.79,916.2 458.6,917.72 456.32,919.11 453.97,920.36 451.55,921.48 449.07,922.47 446.55,923.31 443.97,924 441.36,924.55 438.73,924.95 436.07,925.2 433.41,925.3 430.75,925.25 428.09,925.04 425.45,924.69 422.83,924.19 420.24,923.54 417.7,922.74 415.2,921.8 412.77,920.72 410.39,919.51 408.09,918.16 405.87,916.68 403.74,915.08 401.7,913.36 399.77,911.53 397.94,909.6 396.22,907.56 394.62,905.43 393.14,903.21 391.79,900.91 390.58,898.53 389.5,896.1 388.56,893.6 387.76,891.06 387.11,888.47 386.61,885.85 386.26,883.21" fill="none" stroke="#000" stroke-width="7" stroke-linejoin="miter" stroke-linecap="butt" stroke-miterlimit="10"/>
<polyline points="397.53,909.13 396.22,907.56 394.98,905.93 393.81,904.24 392.71,902.51 391.7,900.73 390.76,898.9 389.9,897.04 389.12,895.14" fill="none" stroke="#fff" stroke-width="7.4"/>
<polyline points="400.02,906.97 398.8,905.5 397.65,903.99 396.56,902.42 395.54,900.81 394.6,899.15 393.72,897.46 392.92,895.73 392.2,893.96" fill="none" stroke="#222" stroke-width="0.7"/>
<polyline points="398.28,908.48 397,906.94 395.79,905.34 394.64,903.69 393.57,901.99 392.57,900.25 391.66,898.47 390.82,896.64 390.06,894.78" fill="none" stroke="#222" stroke-width="0.7"/>
<polyline points="396.55,909.99 395.2,908.37 393.92,906.69 392.72,904.96 391.6,903.18 390.55,901.35 389.59,899.47 388.71,897.56 387.91,895.61" fill="none" stroke="#222" stroke-width="0.7"/>
<polyline points="394.96,911.37 393.56,909.67 392.23,907.92 390.97,906.12 389.8,904.26 388.71,902.35 387.7,900.39 386.78,898.4 385.95,896.36" fill="none" stroke="#222" stroke-width="0.7"/>
<polyline points="424.84,924.59 422.63,924.14 420.44,923.59 418.28,922.94 416.16,922.18 414.07,921.32 412.03,920.36 410.03,919.31 408.09,918.16" fill="none" stroke="#fff" stroke-width="7.4"/>
<polyline points="425.41,921.34 423.36,920.92 421.32,920.41 419.31,919.8 417.34,919.1 415.4,918.3 413.5,917.41 411.65,916.43 409.84,915.36" fill="none" stroke="#222" stroke-width="0.7"/>
<polyline points="425.01,923.6 422.85,923.17 420.71,922.63 418.59,921.99 416.52,921.24 414.47,920.4 412.47,919.47 410.52,918.43 408.62,917.31" fill="none" stroke="#222" stroke-width="0.7"/>
<polyline points="424.61,925.87 422.34,925.41 420.09,924.84 417.87,924.17 415.69,923.39 413.55,922.51 411.45,921.53 409.4,920.44 407.4,919.26" fill="none" stroke="#222" stroke-width="0.7"/>
<polyline points="424.25,927.93 421.88,927.46 419.53,926.87 417.22,926.16 414.94,925.35 412.7,924.43 410.51,923.4 408.37,922.27 406.29,921.04" fill="none" stroke="#222" stroke-width="0.7"/>
<polyline points="452.86,920.9 450.99,921.72 449.07,922.47 447.13,923.12 445.16,923.7 443.17,924.19 441.16,924.59 439.13,924.9 437.1,925.12" fill="none" stroke="#fff" stroke-width="7.4"/>
<polyline points="451.47,917.91 449.72,918.67 447.95,919.36 446.14,919.98 444.31,920.51 442.46,920.96 440.59,921.34 438.7,921.63 436.81,921.83" fill="none" stroke="#222" stroke-width="0.7"/>
<polyline points="452.44,919.99 450.6,920.8 448.73,921.53 446.83,922.17 444.91,922.73 442.96,923.21 440.99,923.6 439,923.91 437.01,924.12" fill="none" stroke="#222" stroke-width="0.7"/>
<polyline points="453.41,922.07 451.48,922.92 449.52,923.69 447.52,924.36 445.5,924.95 443.45,925.46 441.39,925.87 439.3,926.19 437.21,926.42" fill="none" stroke="#222" stroke-width="0.7"/>
<polyline points="454.3,923.98 452.29,924.86 450.24,925.66 448.16,926.37 446.04,926.98 443.91,927.51 441.75,927.93 439.58,928.27 437.39,928.51" fill="none" stroke="#222" stroke-width="0.7"/>
<polyline points="399.42,849.11 401.37,847 403.46,845.02 405.66,843.19 407.99,841.49 410.41,839.96 412.94,838.58 415.54,837.37 418.22,836.33 420.96,835.46 423.75,834.77 426.58,834.27 429.43,833.94 432.3,833.81 435.17,833.85 438.04,834.09 440.88,834.5 443.69,835.1 446.46,835.88 449.16,836.84 451.81,837.97" fill="none" stroke="#222" stroke-width="0.8"/>
<polyline points="396.4,846.48 398.53,844.19 400.8,842.03 403.21,840.03 405.74,838.19 408.38,836.51 411.13,835.01 413.97,833.69 416.89,832.55 419.88,831.61 422.92,830.86 426,830.31 429.11,829.96 432.24,829.81 435.37,829.86 438.49,830.11 441.59,830.57 444.65,831.22 447.66,832.07 450.62,833.11 453.5,834.34" fill="none" stroke="#222" stroke-width="0.8"/>
<polyline points="393.38,843.86 395.68,841.37 398.14,839.04 400.75,836.87 403.49,834.88 406.35,833.06 409.33,831.44 412.4,830.01 415.56,828.78 418.79,827.76 422.08,826.95 425.42,826.35 428.79,825.97 432.18,825.81 435.56,825.86 438.94,826.14 442.3,826.63 445.61,827.34 448.87,828.26 452.07,829.39 455.19,830.72" fill="none" stroke="#222" stroke-width="0.8"/>
<polyline points="412.11,839.01 408.35,831.95" fill="none" stroke="#111" stroke-width="0.9"/>
<polyline points="439.19,834.23 440.31,826.31" fill="none" stroke="#111" stroke-width="0.9"/>
<polygon points="460,826.6 495.8,870.9 495.8,874.4 476.5,874.4 476.83,874.47 476.32,870.6 475.47,866.79 474.28,863.07 472.77,859.47 470.94,856.02 468.82,852.75 466.42,849.68 463.75,846.83 460.84,844.23 457.71,841.89 454.39,839.85 450.9,838.1" fill="#000"/>
<polyline points="451,834.5 461.2,826" fill="none" stroke="#000" stroke-width="4" stroke-linejoin="miter" stroke-linecap="butt" stroke-miterlimit="10"/>
<text x="413.8" y="871.1" font-size="8.4" text-anchor="start" class="c" textLength="40.5" lengthAdjust="spacingAndGlyphs">BREAKFAST</text>
<text x="425.4" y="879.6" font-size="8.4" text-anchor="start" class="c" textLength="18.4" lengthAdjust="spacingAndGlyphs">AREA</text>
<text x="414" y="888.2" font-size="8.4" text-anchor="start" class="c" textLength="49" lengthAdjust="spacingAndGlyphs">15'1" x 15'1"</text>
<text x="412.1" y="897.4" font-size="8.4" text-anchor="start" class="c" textLength="54.9" lengthAdjust="spacingAndGlyphs">(4.6m x 4.6m)</text>
<polyline points="411.9,711 344.2,711 290.35,759.74 277.75,745.39 267.08,754.77" fill="none" stroke="#000" stroke-width="6" stroke-linejoin="miter" stroke-linecap="butt" stroke-miterlimit="10"/>
<polygon points="337.2,714.59 325.71,724.69 329.67,729.19 341.16,719.1" fill="#fff" stroke="#111" stroke-width="0.9"/>
<polyline points="339.84,717.59 328.35,727.69" fill="none" stroke="#111" stroke-width="0.9"/>
<polyline points="338.52,716.09 327.03,726.19" fill="none" stroke="#111" stroke-width="0.9"/>
<polygon points="311.14,737.49 298.06,748.97 302.02,753.48 315.1,742" fill="#fff" stroke="#111" stroke-width="0.9"/>
<polyline points="313.78,740.5 300.7,751.98" fill="none" stroke="#111" stroke-width="0.9"/>
<polyline points="312.46,738.99 299.38,750.48" fill="none" stroke="#111" stroke-width="0.9"/>
<rect x="358.7" y="713" width="7.5" height="9" fill="#000"/>
<rect x="390.8" y="713" width="7.5" height="9" fill="#000"/>
<rect x="372.5" y="715.5" width="11.3" height="10.3" fill="#bbb" stroke="#444" stroke-width="0.8"/>
<circle cx="374.4" cy="717.3" r="1.1" fill="#eee" stroke="#444" stroke-width="0.6"/>
<circle cx="374.4" cy="720.7" r="1.1" fill="#eee" stroke="#444" stroke-width="0.6"/>
<circle cx="374.4" cy="724.1" r="1.1" fill="#eee" stroke="#444" stroke-width="0.6"/>
<circle cx="378.15" cy="717.3" r="1.1" fill="#eee" stroke="#444" stroke-width="0.6"/>
<circle cx="378.15" cy="720.7" r="1.1" fill="#eee" stroke="#444" stroke-width="0.6"/>
<circle cx="378.15" cy="724.1" r="1.1" fill="#eee" stroke="#444" stroke-width="0.6"/>
<circle cx="381.9" cy="717.3" r="1.1" fill="#eee" stroke="#444" stroke-width="0.6"/>
<circle cx="381.9" cy="720.7" r="1.1" fill="#eee" stroke="#444" stroke-width="0.6"/>
<circle cx="381.9" cy="724.1" r="1.1" fill="#eee" stroke="#444" stroke-width="0.6"/>
<polyline points="424.7,690 424.7,725.8 351.1,725.8" fill="none" stroke="#333" stroke-width="0.8"/>
<polyline points="351.1,725.8 298.07,772.93 290.55,764.36" fill="none" stroke="#333" stroke-width="0.8"/>
<polyline points="398,726 423,726" fill="none" stroke="#333" stroke-width="0.8"/>
<polygon points="272.53,754.9 290.87,775.79 295.91,771.37 277.56,750.48" fill="none" stroke="#333" stroke-width="0.8"/>
<circle cx="327.02" cy="740.57" r="4.2" fill="none" stroke="#222" stroke-width="0.9"/>
<circle cx="326.22" cy="738.57" r="0.5" fill="none" stroke="#222" stroke-width="0.6"/>
<polygon points="347.42,787.88 373.26,765.17 389.36,783.51 363.52,806.21" fill="none" stroke="#222" stroke-width="0.8"/>
<polyline points="354.59,783.17 363.97,793.84 377.64,781.83 368.27,771.16" fill="none" stroke="#222" stroke-width="0.8"/>
<path d="M267.08 754.77L258.5 745A13 13 0 0 0 257.31 763.35" fill="none" stroke="#222" stroke-width="0.9"/>
<path d="M247.62 771.86L239.04 762.09A13 13 0 0 1 257.39 763.28" fill="none" stroke="#222" stroke-width="0.9"/>
<polyline points="247.42,771.63 235.18,782.39 285.34,839.49" fill="none" stroke="#000" stroke-width="6" stroke-linejoin="miter" stroke-linecap="butt" stroke-miterlimit="10"/>
<polyline points="294.58,850.01 310.42,868.04" fill="none" stroke="#000" stroke-width="6" stroke-linejoin="miter" stroke-linecap="butt" stroke-miterlimit="10"/>
<polyline points="247.57,780.29 287.77,826.04 281.98,831.12" fill="none" stroke="#333" stroke-width="0.8"/>
<path d="M248.78 804.39L239.54 793.87A14 14 0 0 0 238.26 813.63" fill="none" stroke="#222" stroke-width="0.9"/>
<path d="M296.83 848.03L306.9 839.18A13.4 13.4 0 0 0 287.99 837.96" fill="none" stroke="#222" stroke-width="0.9"/>
<polyline points="304.17,858.35 341.13,825.88 356,824.9" fill="none" stroke="#000" stroke-width="4.3" stroke-linejoin="miter" stroke-linecap="butt" stroke-miterlimit="10"/>
<polyline points="370.4,825.8 378.2,827 398.6,850.6" fill="none" stroke="#000" stroke-width="4.3" stroke-linejoin="miter" stroke-linecap="butt" stroke-miterlimit="10"/>
<path d="M370.4 826L370.4 840A14 14 0 0 1 356.4 826" fill="none" stroke="#222" stroke-width="0.9"/>
<polyline points="298.51,845.09 332.09,815.59 339.94,824.53" fill="none" stroke="#333" stroke-width="0.8"/>
<polyline points="298.51,845.09 306.36,854.03" fill="none" stroke="#333" stroke-width="0.8"/>
<polyline points="316.75,876.45 350.54,914.92" fill="none" stroke="#000" stroke-width="6.8" stroke-linejoin="miter" stroke-linecap="butt" stroke-miterlimit="10"/>
<polyline points="347.98,917.16 386.6,883.24" fill="none" stroke="#000" stroke-width="5.8" stroke-linejoin="miter" stroke-linecap="butt" stroke-miterlimit="10"/>
<polygon points="359.29,911.09 367.85,903.57 364.03,899.21 355.46,906.73" fill="#fff" stroke="#111" stroke-width="0.9"/>
<polyline points="356.74,908.18 365.3,900.66" fill="none" stroke="#111" stroke-width="0.9"/>
<polyline points="358.01,909.64 366.58,902.11" fill="none" stroke="#111" stroke-width="0.9"/>
<path d="M316.75 876.45L326.51 867.87A13 13 0 0 0 308.17 866.69" fill="none" stroke="#222" stroke-width="0.9"/>
<polyline points="328.2,841.76 332.82,847.02 338.83,841.74 334.21,836.48" fill="none" stroke="#333" stroke-width="0.8"/>
<polyline points="321.97,877.85 335.12,866.3 357.56,891.85 372.58,878.65" fill="none" stroke="#333" stroke-width="0.8"/>
<polygon points="364.14,888.73 369.09,894.36 375.1,889.08 370.15,883.45" fill="none" stroke="#222" stroke-width="0.9"/>
<text x="340.3" y="860.1" font-size="8.4" text-anchor="start" class="c" textLength="24.8" lengthAdjust="spacingAndGlyphs">UTILITY</text>
<text x="342.1" y="868.3" font-size="8.4" text-anchor="start" class="c" textLength="19.9" lengthAdjust="spacingAndGlyphs">ROOM</text>
<polyline points="231.05,823.15 250.85,845.69" fill="none" stroke="#000" stroke-width="5.3" stroke-linejoin="miter" stroke-linecap="butt" stroke-miterlimit="10"/>
<polyline points="263.79,860.41 305.96,908.42" fill="none" stroke="#000" stroke-width="5.3" stroke-linejoin="miter" stroke-linecap="butt" stroke-miterlimit="10"/>
<polyline points="249.65,846.75 262.59,861.47" fill="none" stroke="#222" stroke-width="0.8"/>
<polyline points="252.06,844.63 264.99,859.36" fill="none" stroke="#222" stroke-width="0.8"/>
<polyline points="255.13,854.04 258.89,850.74" fill="none" stroke="#222" stroke-width="1"/>
<polyline points="236.79,812.26 207.26,838.19 233.33,867.87" fill="none" stroke="#000" stroke-width="6" stroke-linejoin="miter" stroke-linecap="butt" stroke-miterlimit="10"/>
<polyline points="244.68,875.48 315.82,956.46" fill="none" stroke="#000" stroke-width="6" stroke-linejoin="miter" stroke-linecap="butt" stroke-miterlimit="10"/>
<polyline points="280.06,911.21 293.96,899" fill="none" stroke="#000" stroke-width="3" stroke-linejoin="miter" stroke-linecap="butt" stroke-miterlimit="10"/>
<polygon points="303.24,901.23 320.89,885.72 318.65,883.17 301,898.68" fill="#fff" stroke="#111" stroke-width="0.9"/>
<polyline points="309.48,890.15 312.78,893.91" fill="none" stroke="#222" stroke-width="1"/>
<polyline points="252.08,879.36 266.05,867.08" fill="none" stroke="#333" stroke-width="0.8"/>
<polyline points="255.51,883.26 269.48,870.99" fill="none" stroke="#333" stroke-width="0.8"/>
<polyline points="258.94,887.17 272.91,874.89" fill="none" stroke="#333" stroke-width="0.8"/>
<polyline points="262.37,891.08 276.35,878.8" fill="none" stroke="#333" stroke-width="0.8"/>
<polyline points="265.81,894.98 279.78,882.71" fill="none" stroke="#333" stroke-width="0.8"/>
<polyline points="255.76,869.46 274.24,890.5" fill="none" stroke="#333" stroke-width="0.8"/>
<polyline points="271.36,877.06 273.47,899.16" fill="none" stroke="#555" stroke-width="0.9"/>
<polyline points="269.1,879.04 273.47,899.16" fill="none" stroke="#555" stroke-width="0.9"/>
<path d="M244.68 875.48L234.91 884.06A13 13 0 0 1 236.1 865.71" fill="none" stroke="#222" stroke-width="0.9"/>
<path d="M248.78 875.6L255.54 869.66A9 9 0 0 1 254.72 882.36" fill="none" stroke="#222" stroke-width="0.9"/>
<polyline points="238.22,863.58 245.73,856.98 241.77,852.47 246.75,852.09" fill="none" stroke="#333" stroke-width="0.8"/>
<circle cx="288.25" cy="908.41" r="2.6" fill="none" stroke="#222" stroke-width="0.9"/>
<circle cx="288.25" cy="908.41" r="0.8" fill="none" stroke="#222" stroke-width="0.6"/>
<ellipse cx="308.79" cy="929.36" rx="4.2" ry="4.9" transform="rotate(-41.3 308.79 929.36)" fill="none" stroke="#222" stroke-width="0.9"/>
<polyline points="308.74,921.43 311.89,918.65 318.49,926.17 315.34,928.94" fill="none" stroke="#222" stroke-width="0.8"/>
<path d="M314.55 919.25L324.16 910.8A12.8 12.8 0 0 0 306.1 909.63" fill="none" stroke="#222" stroke-width="0.9"/>
<polyline points="314.55,919.25 325.3,931.5" fill="none" stroke="#222" stroke-width="0.9"/>
<polyline points="320.07,918.12 328.98,928.26" fill="none" stroke="#222" stroke-width="0.9"/>
<polyline points="307.63,951.68 317.85,942.71" fill="none" stroke="#000" stroke-width="7" stroke-linejoin="miter" stroke-linecap="butt" stroke-miterlimit="10"/>
<polyline points="323.78,937.49 335.43,927.26" fill="none" stroke="#000" stroke-width="7" stroke-linejoin="miter" stroke-linecap="butt" stroke-miterlimit="10"/>
<polygon points="320.16,945.33 326.09,940.12 321.47,934.86 315.54,940.08" fill="#fff" stroke="#111" stroke-width="0.9"/>
<polyline points="317.08,941.83 323.01,936.61" fill="none" stroke="#111" stroke-width="0.9"/>
<polyline points="318.62,943.58 324.55,938.37" fill="none" stroke="#111" stroke-width="0.9"/>
<path d="M344.53 917.93L336.28 908.54A12.5 12.5 0 0 0 335.14 926.18" fill="none" stroke="#222" stroke-width="0.9"/>
<polyline points="225.08,858.48 81.97,984.21 94.84,998.86" fill="none" stroke="#000" stroke-width="6.6" stroke-linejoin="miter" stroke-linecap="butt" stroke-miterlimit="10"/>
<polyline points="94.84,998.86 111.34,1017.64" fill="none" stroke="#000" stroke-width="3"/>
<polyline points="125.86,1034.17 173.38,1088.26" fill="none" stroke="#000" stroke-width="6.6" stroke-linejoin="miter" stroke-linecap="butt" stroke-miterlimit="10"/>
<polyline points="169.01,1087.84 178.03,1079.92" fill="none" stroke="#000" stroke-width="6.4" stroke-linejoin="miter" stroke-linecap="butt" stroke-miterlimit="10"/>
<polyline points="94.69,995.66 59.38,1026.68 96.67,1069.13" fill="none" stroke="#000" stroke-width="6.6" stroke-linejoin="miter" stroke-linecap="butt" stroke-miterlimit="10"/>
<polyline points="92.38,1064.24 128.44,1032.56" fill="none" stroke="#000" stroke-width="4.6" stroke-linejoin="miter" stroke-linecap="butt" stroke-miterlimit="10"/>
<path d="M125.86 1034.17L121.74 1013.58A21 21 0 0 0 112 1018.39" fill="none" stroke="#222" stroke-width="0.9"/>
<polyline points="116.47,1091.66 123.07,1099.18 158.38,1068.16" fill="none" stroke="#000" stroke-width="6" stroke-linejoin="miter" stroke-linecap="butt" stroke-miterlimit="10"/>
<path d="M96.34 1068.75L85.07 1078.65A15 15 0 0 0 106.24 1080.02" fill="none" stroke="#222" stroke-width="0.9"/>
<path d="M116.14 1091.29L104.87 1101.19A15 15 0 0 1 106.24 1080.02" fill="none" stroke="#222" stroke-width="0.9"/>
<polyline points="175.8,1080.41 212.99,1047.74" fill="none" stroke="#111" stroke-width="1.5"/>
<polyline points="224.63,1037.51 260.69,1005.83" fill="none" stroke="#111" stroke-width="1.5"/>
<polyline points="271.21,996.59 307.65,964.58" fill="none" stroke="#111" stroke-width="1.5"/>
<polyline points="211.53,1046.09 223.18,1035.86" fill="none" stroke="#000" stroke-width="7.5" stroke-linejoin="miter" stroke-linecap="butt" stroke-miterlimit="10"/>
<polyline points="211.09,1033.83 217.03,1040.6" fill="none" stroke="#000" stroke-width="5" stroke-linejoin="miter" stroke-linecap="butt" stroke-miterlimit="10"/>
<polyline points="259.24,1004.18 269.76,994.94" fill="none" stroke="#000" stroke-width="7.5" stroke-linejoin="miter" stroke-linecap="butt" stroke-miterlimit="10"/>
<polyline points="258.23,992.42 264.17,999.18" fill="none" stroke="#000" stroke-width="5" stroke-linejoin="miter" stroke-linecap="butt" stroke-miterlimit="10"/>
<polyline points="305.82,963.26 317.09,953.36" fill="none" stroke="#000" stroke-width="7" stroke-linejoin="miter" stroke-linecap="butt" stroke-miterlimit="10"/>
<text x="184.7" y="966" font-size="8.4" text-anchor="start" class="c" textLength="28.2" lengthAdjust="spacingAndGlyphs">GARAGE</text>
<text x="179.7" y="973.8" font-size="8.4" text-anchor="start" class="c" textLength="51.5" lengthAdjust="spacingAndGlyphs">30'7" x 21'2"</text>
<text x="178" y="982.6" font-size="8.4" text-anchor="start" class="c" textLength="54.9" lengthAdjust="spacingAndGlyphs">(9.3m x 6.5m)</text>
<text x="81.6" y="1025.2" font-size="8.4" text-anchor="start" class="c" textLength="43.2" lengthAdjust="spacingAndGlyphs">7'8" x 6'8"</text>
<text x="75.9" y="1034" font-size="8.4" text-anchor="start" class="c" textLength="53.9" lengthAdjust="spacingAndGlyphs">(2.3m x 2.0m)</text>
<polyline points="128.6,745.3 111.7,745.3 72.6,794.8 86.7,806.2 105.3,782.4 177.9,782.4 217.4,760.1 196.9,722 154.6,745.3 141.2,745.3" fill="none" stroke="#000" stroke-width="5.6" stroke-linejoin="miter" stroke-linecap="butt" stroke-miterlimit="10"/>
<polyline points="158.2,747.1 164.2,758.1" fill="none" stroke="#000" stroke-width="3" stroke-linejoin="miter" stroke-linecap="butt" stroke-miterlimit="10"/>
<polyline points="173.3,773.2 177.3,780.2" fill="none" stroke="#000" stroke-width="3" stroke-linejoin="miter" stroke-linecap="butt" stroke-miterlimit="10"/>
<path d="M128.6 744L128.6 732A12 12 0 0 1 140.6 744" fill="none" stroke="#222" stroke-width="0.9"/>
<text x="120.1" y="762" font-size="8.4" text-anchor="start" class="c" textLength="45.2" lengthAdjust="spacingAndGlyphs">7'7" x 5'1"</text>
<text x="114.5" y="770.5" font-size="8.4" text-anchor="start" class="c" textLength="54.8" lengthAdjust="spacingAndGlyphs">(2.3m x 1.5m)</text>
<text x="135.2" y="799.5" font-size="8.4" text-anchor="start" class="c" textLength="43.5" lengthAdjust="spacingAndGlyphs">PUMP ROOM</text>
<text x="133.2" y="807.7" font-size="8.4" text-anchor="start" class="c" textLength="45.5" lengthAdjust="spacingAndGlyphs">BELOW POOL</text>
</svg>
</body></html>
